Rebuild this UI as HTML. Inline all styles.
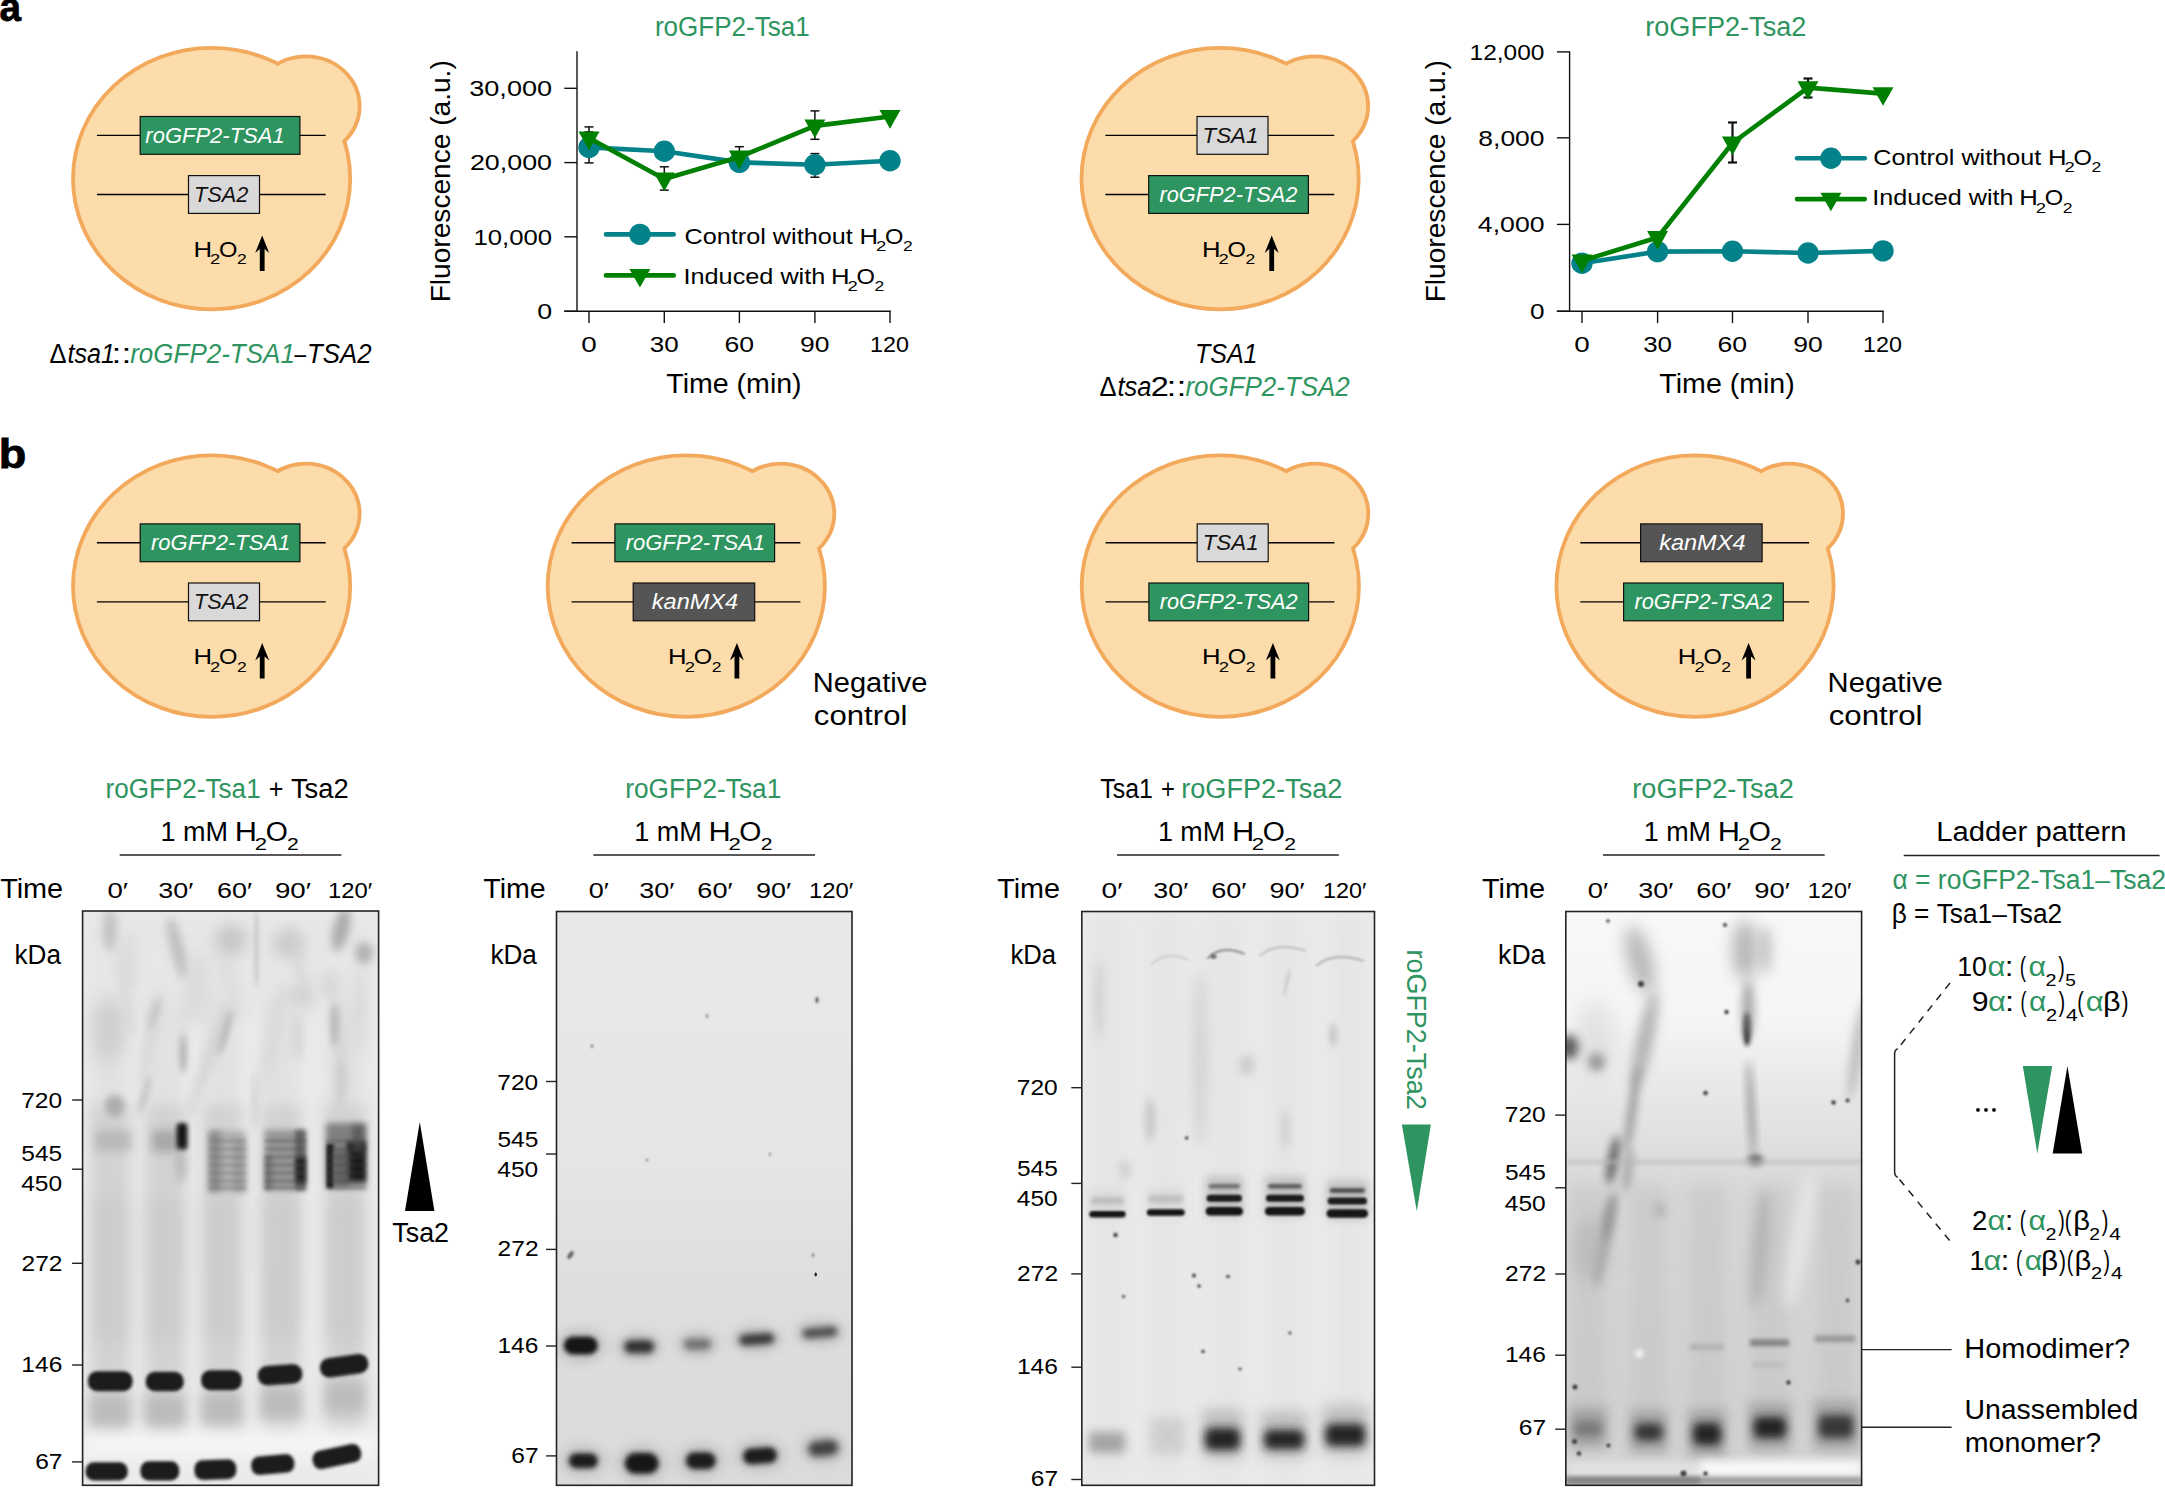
<!DOCTYPE html><html><head><meta charset="utf-8"><title>figure</title>
<style>html,body{margin:0;padding:0;background:#fff}svg{display:block}text{font-family:"Liberation Sans",sans-serif}</style></head><body>
<svg width="2165" height="1488" viewBox="0 0 2165 1488">
<defs>
<g id="yeast"><g fill="#f3a95c" stroke="#f3a95c" stroke-width="3.8"><ellipse cx="211.6" cy="178.65" rx="138.6" ry="130.75"/><ellipse cx="306" cy="106.2" rx="53.6" ry="49.9"/></g><g fill="#fbdcaa" stroke="#fbdcaa" stroke-width="0"><ellipse cx="211.6" cy="178.65" rx="136.7" ry="128.85"/><ellipse cx="306" cy="106.2" rx="51.7" ry="48"/></g></g>
<filter id="b1" x="-100%" y="-100%" width="300%" height="300%"><feGaussianBlur stdDeviation="1"/></filter><filter id="b10" x="-100%" y="-100%" width="300%" height="300%"><feGaussianBlur stdDeviation="10"/></filter><filter id="b12" x="-100%" y="-100%" width="300%" height="300%"><feGaussianBlur stdDeviation="12"/></filter><filter id="b1_5" x="-100%" y="-100%" width="300%" height="300%"><feGaussianBlur stdDeviation="1.5"/></filter><filter id="b2" x="-100%" y="-100%" width="300%" height="300%"><feGaussianBlur stdDeviation="2"/></filter><filter id="b2_0" x="-100%" y="-100%" width="300%" height="300%"><feGaussianBlur stdDeviation="2.0"/></filter><filter id="b2_5" x="-100%" y="-100%" width="300%" height="300%"><feGaussianBlur stdDeviation="2.5"/></filter><filter id="b3" x="-100%" y="-100%" width="300%" height="300%"><feGaussianBlur stdDeviation="3"/></filter><filter id="b3_5" x="-100%" y="-100%" width="300%" height="300%"><feGaussianBlur stdDeviation="3.5"/></filter><filter id="b4" x="-100%" y="-100%" width="300%" height="300%"><feGaussianBlur stdDeviation="4"/></filter><filter id="b5" x="-100%" y="-100%" width="300%" height="300%"><feGaussianBlur stdDeviation="5"/></filter><filter id="b6" x="-100%" y="-100%" width="300%" height="300%"><feGaussianBlur stdDeviation="6"/></filter><filter id="b7" x="-100%" y="-100%" width="300%" height="300%"><feGaussianBlur stdDeviation="7"/></filter><filter id="b8" x="-100%" y="-100%" width="300%" height="300%"><feGaussianBlur stdDeviation="8"/></filter>
</defs>
<rect width="2165" height="1488" fill="#fff"/>
<text x="-0.53" y="21.30" font-size="41" fill="#000" font-weight="bold" textLength="21.49" lengthAdjust="spacingAndGlyphs" stroke="#000" stroke-width="0.8">a</text>
<text x="-1.27" y="467.70" font-size="41" fill="#000" font-weight="bold" textLength="27.52" lengthAdjust="spacingAndGlyphs" stroke="#000" stroke-width="0.8">b</text>
<g transform="translate(0.00,0.00)">
<use href="#yeast"/>
<line x1="96.90" y1="135.40" x2="325.70" y2="135.40" stroke="#000" stroke-width="1.35"/>
<rect x="140.2" y="116.50" width="159.70" height="37.8" fill="#2e9460" stroke="#111" stroke-width="1.2"/>
<text x="145.33" y="143.00" font-size="22.5" fill="#fff" font-style="italic" textLength="139.32" lengthAdjust="spacingAndGlyphs">roGFP2-TSA1</text>
<line x1="96.90" y1="194.50" x2="325.70" y2="194.50" stroke="#000" stroke-width="1.35"/>
<rect x="188.5" y="175.60" width="71.00" height="37.8" fill="#d9d9d9" stroke="#111" stroke-width="1.2"/>
<text x="194.05" y="202.10" font-size="22.5" fill="#111" font-style="italic" textLength="54.27" lengthAdjust="spacingAndGlyphs">TSA2</text>
<text x="193.40" y="256.80" font-size="22.5" fill="#000" textLength="18.53" lengthAdjust="spacingAndGlyphs">H</text>
<text x="209.99" y="264.47" font-size="14.166666666666668" fill="#000" textLength="10.28" lengthAdjust="spacingAndGlyphs">2</text>
<text x="219.04" y="256.80" font-size="22.5" fill="#000" textLength="18.42" lengthAdjust="spacingAndGlyphs">O</text>
<text x="236.95" y="264.47" font-size="14.166666666666668" fill="#000" textLength="9.77" lengthAdjust="spacingAndGlyphs">2</text>
<path d="M259.8,271 L259.8,249 L255.2,253 L262.2,235.6 L269.2,253 L264.59999999999997,249 L264.59999999999997,271 Z" fill="#000"/>
</g>
<g transform="translate(1008.50,0.00)">
<use href="#yeast"/>
<line x1="96.90" y1="135.40" x2="325.70" y2="135.40" stroke="#000" stroke-width="1.35"/>
<rect x="188.5" y="116.50" width="71.00" height="37.8" fill="#d9d9d9" stroke="#111" stroke-width="1.2"/>
<text x="193.99" y="143.00" font-size="22.5" fill="#111" font-style="italic" textLength="55.90" lengthAdjust="spacingAndGlyphs">TSA1</text>
<line x1="96.90" y1="194.50" x2="325.70" y2="194.50" stroke="#000" stroke-width="1.35"/>
<rect x="140.2" y="175.60" width="159.70" height="37.8" fill="#2e9460" stroke="#111" stroke-width="1.2"/>
<text x="151.04" y="202.10" font-size="22.5" fill="#fff" font-style="italic" textLength="137.78" lengthAdjust="spacingAndGlyphs">roGFP2-TSA2</text>
<text x="193.40" y="256.80" font-size="22.5" fill="#000" textLength="18.53" lengthAdjust="spacingAndGlyphs">H</text>
<text x="209.99" y="264.47" font-size="14.166666666666668" fill="#000" textLength="10.28" lengthAdjust="spacingAndGlyphs">2</text>
<text x="219.04" y="256.80" font-size="22.5" fill="#000" textLength="18.42" lengthAdjust="spacingAndGlyphs">O</text>
<text x="236.95" y="264.47" font-size="14.166666666666668" fill="#000" textLength="9.77" lengthAdjust="spacingAndGlyphs">2</text>
<path d="M260.8,271 L260.8,249 L256.2,253 L263.2,235.6 L270.2,253 L265.59999999999997,249 L265.59999999999997,271 Z" fill="#000"/>
</g>
<g transform="translate(0.00,407.40)">
<use href="#yeast"/>
<line x1="96.90" y1="135.40" x2="325.70" y2="135.40" stroke="#000" stroke-width="1.35"/>
<rect x="140.2" y="116.50" width="159.70" height="37.8" fill="#2e9460" stroke="#111" stroke-width="1.2"/>
<text x="151.03" y="143.00" font-size="22.5" fill="#fff" font-style="italic" textLength="139.32" lengthAdjust="spacingAndGlyphs">roGFP2-TSA1</text>
<line x1="96.90" y1="194.50" x2="325.70" y2="194.50" stroke="#000" stroke-width="1.35"/>
<rect x="188.5" y="175.60" width="71.00" height="37.8" fill="#d9d9d9" stroke="#111" stroke-width="1.2"/>
<text x="194.05" y="202.10" font-size="22.5" fill="#111" font-style="italic" textLength="54.27" lengthAdjust="spacingAndGlyphs">TSA2</text>
<text x="193.40" y="256.80" font-size="22.5" fill="#000" textLength="18.53" lengthAdjust="spacingAndGlyphs">H</text>
<text x="209.99" y="264.47" font-size="14.166666666666668" fill="#000" textLength="10.28" lengthAdjust="spacingAndGlyphs">2</text>
<text x="219.04" y="256.80" font-size="22.5" fill="#000" textLength="18.42" lengthAdjust="spacingAndGlyphs">O</text>
<text x="236.95" y="264.47" font-size="14.166666666666668" fill="#000" textLength="9.77" lengthAdjust="spacingAndGlyphs">2</text>
<path d="M259.8,271 L259.8,249 L255.2,253 L262.2,235.6 L269.2,253 L264.59999999999997,249 L264.59999999999997,271 Z" fill="#000"/>
</g>
<g transform="translate(474.70,407.40)">
<use href="#yeast"/>
<line x1="96.90" y1="135.40" x2="325.70" y2="135.40" stroke="#000" stroke-width="1.35"/>
<rect x="140.2" y="116.50" width="159.70" height="37.8" fill="#2e9460" stroke="#111" stroke-width="1.2"/>
<text x="151.03" y="143.00" font-size="22.5" fill="#fff" font-style="italic" textLength="139.32" lengthAdjust="spacingAndGlyphs">roGFP2-TSA1</text>
<line x1="96.90" y1="194.50" x2="325.70" y2="194.50" stroke="#000" stroke-width="1.35"/>
<rect x="158.5" y="175.60" width="121.50" height="37.8" fill="#555" stroke="#111" stroke-width="1.2"/>
<text x="177.11" y="202.10" font-size="22.5" fill="#fff" font-style="italic" textLength="86.27" lengthAdjust="spacingAndGlyphs">kanMX4</text>
<text x="193.40" y="256.80" font-size="22.5" fill="#000" textLength="18.53" lengthAdjust="spacingAndGlyphs">H</text>
<text x="209.99" y="264.47" font-size="14.166666666666668" fill="#000" textLength="10.28" lengthAdjust="spacingAndGlyphs">2</text>
<text x="219.04" y="256.80" font-size="22.5" fill="#000" textLength="18.42" lengthAdjust="spacingAndGlyphs">O</text>
<text x="236.95" y="264.47" font-size="14.166666666666668" fill="#000" textLength="9.77" lengthAdjust="spacingAndGlyphs">2</text>
<path d="M259.8,271 L259.8,249 L255.2,253 L262.2,235.6 L269.2,253 L264.59999999999997,249 L264.59999999999997,271 Z" fill="#000"/>
</g>
<g transform="translate(1008.70,407.40)">
<use href="#yeast"/>
<line x1="96.90" y1="135.40" x2="325.70" y2="135.40" stroke="#000" stroke-width="1.35"/>
<rect x="188.5" y="116.50" width="71.00" height="37.8" fill="#d9d9d9" stroke="#111" stroke-width="1.2"/>
<text x="193.99" y="143.00" font-size="22.5" fill="#111" font-style="italic" textLength="55.90" lengthAdjust="spacingAndGlyphs">TSA1</text>
<line x1="96.90" y1="194.50" x2="325.70" y2="194.50" stroke="#000" stroke-width="1.35"/>
<rect x="140.2" y="175.60" width="159.70" height="37.8" fill="#2e9460" stroke="#111" stroke-width="1.2"/>
<text x="151.04" y="202.10" font-size="22.5" fill="#fff" font-style="italic" textLength="137.78" lengthAdjust="spacingAndGlyphs">roGFP2-TSA2</text>
<text x="193.40" y="256.80" font-size="22.5" fill="#000" textLength="18.53" lengthAdjust="spacingAndGlyphs">H</text>
<text x="209.99" y="264.47" font-size="14.166666666666668" fill="#000" textLength="10.28" lengthAdjust="spacingAndGlyphs">2</text>
<text x="219.04" y="256.80" font-size="22.5" fill="#000" textLength="18.42" lengthAdjust="spacingAndGlyphs">O</text>
<text x="236.95" y="264.47" font-size="14.166666666666668" fill="#000" textLength="9.77" lengthAdjust="spacingAndGlyphs">2</text>
<path d="M261.8,271 L261.8,249 L257.2,253 L264.2,235.6 L271.2,253 L266.59999999999997,249 L266.59999999999997,271 Z" fill="#000"/>
</g>
<g transform="translate(1483.40,407.40)">
<use href="#yeast"/>
<line x1="96.90" y1="135.40" x2="325.70" y2="135.40" stroke="#000" stroke-width="1.35"/>
<rect x="157.2" y="116.50" width="121.50" height="37.8" fill="#555" stroke="#111" stroke-width="1.2"/>
<text x="175.81" y="143.00" font-size="22.5" fill="#fff" font-style="italic" textLength="86.27" lengthAdjust="spacingAndGlyphs">kanMX4</text>
<line x1="96.90" y1="194.50" x2="325.70" y2="194.50" stroke="#000" stroke-width="1.35"/>
<rect x="140.2" y="175.60" width="159.70" height="37.8" fill="#2e9460" stroke="#111" stroke-width="1.2"/>
<text x="151.04" y="202.10" font-size="22.5" fill="#fff" font-style="italic" textLength="137.78" lengthAdjust="spacingAndGlyphs">roGFP2-TSA2</text>
<text x="194.40" y="256.80" font-size="22.5" fill="#000" textLength="18.53" lengthAdjust="spacingAndGlyphs">H</text>
<text x="210.99" y="264.47" font-size="14.166666666666668" fill="#000" textLength="10.28" lengthAdjust="spacingAndGlyphs">2</text>
<text x="220.04" y="256.80" font-size="22.5" fill="#000" textLength="18.42" lengthAdjust="spacingAndGlyphs">O</text>
<text x="237.95" y="264.47" font-size="14.166666666666668" fill="#000" textLength="9.77" lengthAdjust="spacingAndGlyphs">2</text>
<path d="M262.8,271 L262.8,249 L258.2,253 L265.2,235.6 L272.2,253 L267.59999999999997,249 L267.59999999999997,271 Z" fill="#000"/>
</g>
<text x="49.54" y="362.90" font-size="27" fill="#000" textLength="17.03" lengthAdjust="spacingAndGlyphs">Δ</text>
<text x="67.46" y="362.90" font-size="27" fill="#000" font-style="italic" textLength="47.46" lengthAdjust="spacingAndGlyphs">tsa1</text>
<text x="111.54" y="362.90" font-size="27" fill="#000" textLength="19.81" lengthAdjust="spacingAndGlyphs">::</text>
<text x="130.17" y="362.90" font-size="27" fill="#2e9460" font-style="italic" textLength="164.73" lengthAdjust="spacingAndGlyphs">roGFP2-TSA1</text>
<text x="294.40" y="362.90" font-size="27" fill="#000" textLength="11.61" lengthAdjust="spacingAndGlyphs">–</text>
<text x="307.08" y="362.90" font-size="27" fill="#000" font-style="italic" textLength="64.49" lengthAdjust="spacingAndGlyphs">TSA2</text>
<text x="1194.95" y="362.90" font-size="27" fill="#000" font-style="italic" textLength="62.56" lengthAdjust="spacingAndGlyphs">TSA1</text>
<text x="1099.54" y="396.00" font-size="27" fill="#000" textLength="17.03" lengthAdjust="spacingAndGlyphs">Δ</text>
<text x="1117.45" y="396.00" font-size="27" fill="#000" font-style="italic" textLength="33.92" lengthAdjust="spacingAndGlyphs">tsa</text>
<text x="1150.87" y="396.00" font-size="27" fill="#000" textLength="18.07" lengthAdjust="spacingAndGlyphs">2</text>
<text x="1166.54" y="396.00" font-size="27" fill="#000" textLength="19.81" lengthAdjust="spacingAndGlyphs">::</text>
<text x="1185.47" y="396.00" font-size="27" fill="#2e9460" font-style="italic" textLength="164.31" lengthAdjust="spacingAndGlyphs">roGFP2-TSA2</text>
<text x="812.82" y="692.40" font-size="27" fill="#000" textLength="114.57" lengthAdjust="spacingAndGlyphs">Negative</text>
<text x="813.88" y="724.70" font-size="27" fill="#000" textLength="93.51" lengthAdjust="spacingAndGlyphs">control</text>
<text x="1827.61" y="692.40" font-size="27" fill="#000" textLength="115.19" lengthAdjust="spacingAndGlyphs">Negative</text>
<text x="1828.67" y="724.70" font-size="27" fill="#000" textLength="93.82" lengthAdjust="spacingAndGlyphs">control</text>
<line x1="577.00" y1="51.20" x2="577.00" y2="312.00" stroke="#111" stroke-width="1.4"/>
<line x1="564.30" y1="311.30" x2="890.70" y2="311.30" stroke="#111" stroke-width="1.4"/>
<line x1="589.00" y1="311.30" x2="589.00" y2="323.10" stroke="#111" stroke-width="1.4"/>
<line x1="664.30" y1="311.30" x2="664.30" y2="323.10" stroke="#111" stroke-width="1.4"/>
<line x1="739.40" y1="311.30" x2="739.40" y2="323.10" stroke="#111" stroke-width="1.4"/>
<line x1="814.90" y1="311.30" x2="814.90" y2="323.10" stroke="#111" stroke-width="1.4"/>
<line x1="890.00" y1="311.30" x2="890.00" y2="323.10" stroke="#111" stroke-width="1.4"/>
<line x1="564.30" y1="88.30" x2="577.00" y2="88.30" stroke="#111" stroke-width="1.4"/>
<line x1="564.30" y1="162.60" x2="577.00" y2="162.60" stroke="#111" stroke-width="1.4"/>
<line x1="564.30" y1="236.80" x2="577.00" y2="236.80" stroke="#111" stroke-width="1.4"/>
<line x1="564.30" y1="311.30" x2="577.00" y2="311.30" stroke="#111" stroke-width="1.4"/>
<line x1="589.00" y1="131.90" x2="589.00" y2="162.90" stroke="#111" stroke-width="1.5"/>
<line x1="584.50" y1="131.90" x2="593.50" y2="131.90" stroke="#111" stroke-width="1.5"/>
<line x1="584.50" y1="162.90" x2="593.50" y2="162.90" stroke="#111" stroke-width="1.5"/>
<line x1="589.00" y1="126.90" x2="589.00" y2="148.80" stroke="#111" stroke-width="1.5"/>
<line x1="584.50" y1="126.90" x2="593.50" y2="126.90" stroke="#111" stroke-width="1.5"/>
<line x1="584.50" y1="148.80" x2="593.50" y2="148.80" stroke="#111" stroke-width="1.5"/>
<line x1="664.30" y1="166.80" x2="664.30" y2="190.10" stroke="#111" stroke-width="1.5"/>
<line x1="659.80" y1="166.80" x2="668.80" y2="166.80" stroke="#111" stroke-width="1.5"/>
<line x1="659.80" y1="190.10" x2="668.80" y2="190.10" stroke="#111" stroke-width="1.5"/>
<line x1="739.40" y1="146.70" x2="739.40" y2="167.30" stroke="#111" stroke-width="1.5"/>
<line x1="734.90" y1="146.70" x2="743.90" y2="146.70" stroke="#111" stroke-width="1.5"/>
<line x1="734.90" y1="167.30" x2="743.90" y2="167.30" stroke="#111" stroke-width="1.5"/>
<line x1="814.90" y1="110.90" x2="814.90" y2="139.30" stroke="#111" stroke-width="1.5"/>
<line x1="810.40" y1="110.90" x2="819.40" y2="110.90" stroke="#111" stroke-width="1.5"/>
<line x1="810.40" y1="139.30" x2="819.40" y2="139.30" stroke="#111" stroke-width="1.5"/>
<line x1="814.90" y1="153.60" x2="814.90" y2="177.20" stroke="#111" stroke-width="1.5"/>
<line x1="810.40" y1="153.60" x2="819.40" y2="153.60" stroke="#111" stroke-width="1.5"/>
<line x1="810.40" y1="177.20" x2="819.40" y2="177.20" stroke="#111" stroke-width="1.5"/>
<polyline points="589.0,147.4 664.3,151.3 739.4,162.4 814.9,164.7 890.0,160.8" fill="none" stroke="#04828a" stroke-width="4.6" stroke-linejoin="round"/>
<circle cx="589.0" cy="147.4" r="10.7" fill="#04828a"/>
<circle cx="664.3" cy="151.3" r="10.7" fill="#04828a"/>
<circle cx="739.4" cy="162.4" r="10.7" fill="#04828a"/>
<circle cx="814.9" cy="164.7" r="10.7" fill="#04828a"/>
<circle cx="890.0" cy="160.8" r="10.7" fill="#04828a"/>
<polyline points="589.0,138.0 664.3,179.0 739.4,157.0 814.9,125.9 890.0,116.5" fill="none" stroke="#008000" stroke-width="4.6" stroke-linejoin="round"/>
<path d="M578.5,131.6 L599.5,131.6 L589.0,150.2 Z" fill="#008000"/>
<path d="M653.8,172.6 L674.8,172.6 L664.3,191.2 Z" fill="#008000"/>
<path d="M728.9,150.6 L749.9,150.6 L739.4,169.2 Z" fill="#008000"/>
<path d="M804.4,119.5 L825.4,119.5 L814.9,138.1 Z" fill="#008000"/>
<path d="M879.5,110.1 L900.5,110.1 L890.0,128.7 Z" fill="#008000"/>
<text x="469.27" y="96.10" font-size="22.5" fill="#000" textLength="82.79" lengthAdjust="spacingAndGlyphs">30,000</text>
<text x="469.95" y="170.40" font-size="22.5" fill="#000" textLength="82.10" lengthAdjust="spacingAndGlyphs">20,000</text>
<text x="473.44" y="244.60" font-size="22.5" fill="#000" textLength="78.56" lengthAdjust="spacingAndGlyphs">10,000</text>
<text x="537.15" y="319.10" font-size="22.5" fill="#000" textLength="14.89" lengthAdjust="spacingAndGlyphs">0</text>
<text x="581.26" y="352.00" font-size="22.5" fill="#000" textLength="15.47" lengthAdjust="spacingAndGlyphs">0</text>
<text x="649.86" y="352.00" font-size="22.5" fill="#000" textLength="28.90" lengthAdjust="spacingAndGlyphs">30</text>
<text x="724.45" y="352.00" font-size="22.5" fill="#000" textLength="29.59" lengthAdjust="spacingAndGlyphs">60</text>
<text x="800.06" y="352.00" font-size="22.5" fill="#000" textLength="29.48" lengthAdjust="spacingAndGlyphs">90</text>
<text x="870.12" y="352.00" font-size="22.5" fill="#000" textLength="38.89" lengthAdjust="spacingAndGlyphs">120</text>
<text x="666.26" y="393.10" font-size="27" fill="#000" textLength="135.39" lengthAdjust="spacingAndGlyphs">Time (min)</text>
<text x="654.90" y="35.80" font-size="27" fill="#2e9460" textLength="154.95" lengthAdjust="spacingAndGlyphs">roGFP2-Tsa1</text>
<g transform="translate(450,300) rotate(-90)">
<text x="-2.30" y="0.00" font-size="27" fill="#000" textLength="242.05" lengthAdjust="spacingAndGlyphs">Fluorescence (a.u.)</text>
</g>
<line x1="606.00" y1="234.40" x2="673.70" y2="234.40" stroke="#04828a" stroke-width="4.6" stroke-linecap="round"/>
<circle cx="639.9" cy="234.4" r="10.7" fill="#04828a"/>
<line x1="606.00" y1="275.40" x2="673.70" y2="275.40" stroke="#008000" stroke-width="4.6" stroke-linecap="round"/>
<path d="M629.4,269.0 L650.4,269.0 L639.9,287.6 Z" fill="#008000"/>
<text x="684.52" y="243.50" font-size="22.5" fill="#000" textLength="168.23" lengthAdjust="spacingAndGlyphs">Control without</text>
<text x="859.46" y="243.50" font-size="22.5" fill="#000" textLength="18.53" lengthAdjust="spacingAndGlyphs">H</text>
<text x="876.05" y="251.17" font-size="14.166666666666668" fill="#000" textLength="10.28" lengthAdjust="spacingAndGlyphs">2</text>
<text x="885.11" y="243.50" font-size="22.5" fill="#000" textLength="18.42" lengthAdjust="spacingAndGlyphs">O</text>
<text x="903.02" y="251.17" font-size="14.166666666666668" fill="#000" textLength="9.77" lengthAdjust="spacingAndGlyphs">2</text>
<text x="683.47" y="283.80" font-size="22.5" fill="#000" textLength="141.84" lengthAdjust="spacingAndGlyphs">Induced with</text>
<text x="830.96" y="283.80" font-size="22.5" fill="#000" textLength="18.53" lengthAdjust="spacingAndGlyphs">H</text>
<text x="847.55" y="291.47" font-size="14.166666666666668" fill="#000" textLength="10.28" lengthAdjust="spacingAndGlyphs">2</text>
<text x="856.61" y="283.80" font-size="22.5" fill="#000" textLength="18.42" lengthAdjust="spacingAndGlyphs">O</text>
<text x="874.52" y="291.47" font-size="14.166666666666668" fill="#000" textLength="9.77" lengthAdjust="spacingAndGlyphs">2</text>
<line x1="1569.60" y1="51.20" x2="1569.60" y2="312.00" stroke="#111" stroke-width="1.4"/>
<line x1="1556.90" y1="311.30" x2="1883.70" y2="311.30" stroke="#111" stroke-width="1.4"/>
<line x1="1582.00" y1="311.30" x2="1582.00" y2="323.10" stroke="#111" stroke-width="1.4"/>
<line x1="1657.60" y1="311.30" x2="1657.60" y2="323.10" stroke="#111" stroke-width="1.4"/>
<line x1="1732.50" y1="311.30" x2="1732.50" y2="323.10" stroke="#111" stroke-width="1.4"/>
<line x1="1808.00" y1="311.30" x2="1808.00" y2="323.10" stroke="#111" stroke-width="1.4"/>
<line x1="1883.00" y1="311.30" x2="1883.00" y2="323.10" stroke="#111" stroke-width="1.4"/>
<line x1="1556.90" y1="51.90" x2="1569.60" y2="51.90" stroke="#111" stroke-width="1.4"/>
<line x1="1556.90" y1="137.80" x2="1569.60" y2="137.80" stroke="#111" stroke-width="1.4"/>
<line x1="1556.90" y1="224.40" x2="1569.60" y2="224.40" stroke="#111" stroke-width="1.4"/>
<line x1="1556.90" y1="311.30" x2="1569.60" y2="311.30" stroke="#111" stroke-width="1.4"/>
<line x1="1732.50" y1="122.50" x2="1732.50" y2="162.50" stroke="#111" stroke-width="2.2"/>
<line x1="1728.00" y1="122.50" x2="1737.00" y2="122.50" stroke="#111" stroke-width="2.2"/>
<line x1="1728.00" y1="162.50" x2="1737.00" y2="162.50" stroke="#111" stroke-width="2.2"/>
<line x1="1808.00" y1="78.50" x2="1808.00" y2="97.50" stroke="#111" stroke-width="2.2"/>
<line x1="1803.50" y1="78.50" x2="1812.50" y2="78.50" stroke="#111" stroke-width="2.2"/>
<line x1="1803.50" y1="97.50" x2="1812.50" y2="97.50" stroke="#111" stroke-width="2.2"/>
<polyline points="1582.0,263.3 1657.6,251.6 1732.5,251.2 1808.0,253.0 1883.0,250.9" fill="none" stroke="#04828a" stroke-width="4.6" stroke-linejoin="round"/>
<circle cx="1582.0" cy="263.3" r="10.7" fill="#04828a"/>
<circle cx="1657.6" cy="251.6" r="10.7" fill="#04828a"/>
<circle cx="1732.5" cy="251.2" r="10.7" fill="#04828a"/>
<circle cx="1808.0" cy="253.0" r="10.7" fill="#04828a"/>
<circle cx="1883.0" cy="250.9" r="10.7" fill="#04828a"/>
<polyline points="1582.0,260.8 1657.6,237.5 1732.5,143.0 1808.0,87.6 1883.0,93.6" fill="none" stroke="#008000" stroke-width="4.6" stroke-linejoin="round"/>
<path d="M1571.5,254.4 L1592.5,254.4 L1582.0,273.0 Z" fill="#008000"/>
<path d="M1647.1,231.1 L1668.1,231.1 L1657.6,249.7 Z" fill="#008000"/>
<path d="M1722.0,136.6 L1743.0,136.6 L1732.5,155.2 Z" fill="#008000"/>
<path d="M1797.5,81.2 L1818.5,81.2 L1808.0,99.8 Z" fill="#008000"/>
<path d="M1872.5,87.2 L1893.5,87.2 L1883.0,105.8 Z" fill="#008000"/>
<text x="1469.64" y="59.70" font-size="22.5" fill="#000" textLength="74.82" lengthAdjust="spacingAndGlyphs">12,000</text>
<text x="1478.35" y="145.60" font-size="22.5" fill="#000" textLength="66.18" lengthAdjust="spacingAndGlyphs">8,000</text>
<text x="1477.89" y="232.20" font-size="22.5" fill="#000" textLength="66.65" lengthAdjust="spacingAndGlyphs">4,000</text>
<text x="1529.98" y="319.10" font-size="22.5" fill="#000" textLength="14.54" lengthAdjust="spacingAndGlyphs">0</text>
<text x="1574.26" y="352.00" font-size="22.5" fill="#000" textLength="15.47" lengthAdjust="spacingAndGlyphs">0</text>
<text x="1643.16" y="352.00" font-size="22.5" fill="#000" textLength="28.90" lengthAdjust="spacingAndGlyphs">30</text>
<text x="1717.55" y="352.00" font-size="22.5" fill="#000" textLength="29.59" lengthAdjust="spacingAndGlyphs">60</text>
<text x="1793.16" y="352.00" font-size="22.5" fill="#000" textLength="29.48" lengthAdjust="spacingAndGlyphs">90</text>
<text x="1863.12" y="352.00" font-size="22.5" fill="#000" textLength="38.89" lengthAdjust="spacingAndGlyphs">120</text>
<text x="1659.36" y="393.10" font-size="27" fill="#000" textLength="135.39" lengthAdjust="spacingAndGlyphs">Time (min)</text>
<text x="1645.23" y="35.80" font-size="27" fill="#2e9460" textLength="161.10" lengthAdjust="spacingAndGlyphs">roGFP2-Tsa2</text>
<g transform="translate(1445,300) rotate(-90)">
<text x="-2.30" y="0.00" font-size="27" fill="#000" textLength="242.05" lengthAdjust="spacingAndGlyphs">Fluorescence (a.u.)</text>
</g>
<line x1="1797.00" y1="158.30" x2="1864.80" y2="158.30" stroke="#04828a" stroke-width="4.6" stroke-linecap="round"/>
<circle cx="1830.9" cy="158.3" r="10.7" fill="#04828a"/>
<line x1="1797.00" y1="199.10" x2="1864.80" y2="199.10" stroke="#008000" stroke-width="4.6" stroke-linecap="round"/>
<path d="M1820.4,192.7 L1841.4,192.7 L1830.9,211.3 Z" fill="#008000"/>
<text x="1873.22" y="164.50" font-size="22.5" fill="#000" textLength="168.03" lengthAdjust="spacingAndGlyphs">Control without</text>
<text x="2047.96" y="164.50" font-size="22.5" fill="#000" textLength="18.53" lengthAdjust="spacingAndGlyphs">H</text>
<text x="2064.55" y="172.17" font-size="14.166666666666668" fill="#000" textLength="10.28" lengthAdjust="spacingAndGlyphs">2</text>
<text x="2073.61" y="164.50" font-size="22.5" fill="#000" textLength="18.42" lengthAdjust="spacingAndGlyphs">O</text>
<text x="2091.52" y="172.17" font-size="14.166666666666668" fill="#000" textLength="9.77" lengthAdjust="spacingAndGlyphs">2</text>
<text x="1872.18" y="205.10" font-size="22.5" fill="#000" textLength="141.32" lengthAdjust="spacingAndGlyphs">Induced with</text>
<text x="2019.16" y="205.10" font-size="22.5" fill="#000" textLength="18.53" lengthAdjust="spacingAndGlyphs">H</text>
<text x="2035.75" y="212.77" font-size="14.166666666666668" fill="#000" textLength="10.28" lengthAdjust="spacingAndGlyphs">2</text>
<text x="2044.81" y="205.10" font-size="22.5" fill="#000" textLength="18.42" lengthAdjust="spacingAndGlyphs">O</text>
<text x="2062.72" y="212.77" font-size="14.166666666666668" fill="#000" textLength="9.77" lengthAdjust="spacingAndGlyphs">2</text>
<clipPath id="gc1"><rect x="82.6" y="911" width="296.00" height="574.30"/></clipPath>
<g clip-path="url(#gc1)">
<rect x="82.6" y="911" width="296.00" height="574.30" fill="#ebebeb"/>
<rect x="90.0" y="1105.0" width="40.0" height="335.0" rx="0" fill="#c4c4c4" filter="url(#b7)" opacity="0.62"/>
<rect x="94.0" y="1000.0" width="32.0" height="120.0" rx="0" fill="#cdcdcd" filter="url(#b10)" opacity="0.35"/>
<rect x="145.0" y="1105.0" width="40.0" height="335.0" rx="0" fill="#c4c4c4" filter="url(#b7)" opacity="0.62"/>
<rect x="149.0" y="1000.0" width="32.0" height="120.0" rx="0" fill="#cdcdcd" filter="url(#b10)" opacity="0.35"/>
<rect x="202.0" y="1105.0" width="40.0" height="335.0" rx="0" fill="#c4c4c4" filter="url(#b7)" opacity="0.62"/>
<rect x="206.0" y="1000.0" width="32.0" height="120.0" rx="0" fill="#cdcdcd" filter="url(#b10)" opacity="0.35"/>
<rect x="261.0" y="1105.0" width="40.0" height="335.0" rx="0" fill="#c4c4c4" filter="url(#b7)" opacity="0.62"/>
<rect x="265.0" y="1000.0" width="32.0" height="120.0" rx="0" fill="#cdcdcd" filter="url(#b10)" opacity="0.35"/>
<rect x="325.0" y="1105.0" width="40.0" height="335.0" rx="0" fill="#c4c4c4" filter="url(#b7)" opacity="0.62"/>
<rect x="329.0" y="1000.0" width="32.0" height="120.0" rx="0" fill="#cdcdcd" filter="url(#b10)" opacity="0.35"/>
<ellipse cx="110.0" cy="930.0" rx="7.0" ry="22.0" fill="#acacac" filter="url(#b5)" opacity="0.75"/>
<ellipse cx="177.0" cy="948.0" rx="6.0" ry="32.0" fill="#a5a5a5" filter="url(#b5)" transform="rotate(-14 177.0 948.0)" opacity="0.8"/>
<ellipse cx="231.0" cy="940.0" rx="16.0" ry="16.0" fill="#bcbcbc" filter="url(#b7)" opacity="0.8"/>
<ellipse cx="256.5" cy="948.0" rx="2.2" ry="40.0" fill="#b2b2b2" filter="url(#b2)" opacity="0.7"/>
<ellipse cx="288.0" cy="944.0" rx="16.0" ry="15.0" fill="#c0c0c0" filter="url(#b7)" opacity="0.75"/>
<ellipse cx="341.0" cy="930.0" rx="8.0" ry="22.0" fill="#969696" filter="url(#b4)" transform="rotate(14 341.0 930.0)" opacity="0.85"/>
<ellipse cx="364.0" cy="953.0" rx="9.0" ry="11.0" fill="#9e9e9e" filter="url(#b4)" opacity="0.85"/>
<ellipse cx="183.0" cy="1053.0" rx="3.5" ry="20.0" fill="#a0a0a0" filter="url(#b3)" opacity="0.8"/>
<ellipse cx="225.0" cy="1032.0" rx="3.5" ry="24.0" fill="#a6a6a6" filter="url(#b3)" transform="rotate(16 225.0 1032.0)" opacity="0.8"/>
<ellipse cx="334.5" cy="1025.0" rx="3.0" ry="22.0" fill="#989898" filter="url(#b3)" opacity="0.85"/>
<ellipse cx="155.0" cy="1013.0" rx="3.5" ry="18.0" fill="#b6b6b6" filter="url(#b3)" transform="rotate(18 155.0 1013.0)" opacity="0.7"/>
<ellipse cx="108.0" cy="1030.0" rx="16.0" ry="32.0" fill="#c8c8c8" filter="url(#b8)" opacity="0.7"/>
<ellipse cx="145.0" cy="1094.0" rx="3.5" ry="20.0" fill="#b6b6b6" filter="url(#b3)" transform="rotate(16 145.0 1094.0)" opacity="0.7"/>
<ellipse cx="298.0" cy="1037.0" rx="5.0" ry="25.0" fill="#c8c8c8" filter="url(#b5)" opacity="0.6"/>
<ellipse cx="300.0" cy="995.0" rx="14.0" ry="10.0" fill="#c8c8c8" filter="url(#b6)" opacity="0.6"/>
<ellipse cx="330.0" cy="985.0" rx="10.0" ry="14.0" fill="#cdcdcd" filter="url(#b6)" opacity="0.6"/>
<ellipse cx="200.0" cy="990.0" rx="10.0" ry="40.0" fill="#d2d2d2" filter="url(#b8)" opacity="0.5"/>
<ellipse cx="130.0" cy="960.0" rx="8.0" ry="30.0" fill="#d4d4d4" filter="url(#b6)" opacity="0.5"/>
<ellipse cx="340.0" cy="1085.0" rx="4.0" ry="25.0" fill="#bebebe" filter="url(#b4)" opacity="0.6"/>
<ellipse cx="255.0" cy="1100.0" rx="3.0" ry="30.0" fill="#c8c8c8" filter="url(#b3)" opacity="0.6"/>
<ellipse cx="208.0" cy="1060.0" rx="6.0" ry="60.0" fill="#c8c8c8" filter="url(#b5)" transform="rotate(19 208.0 1060.0)" opacity="0.55"/>
<ellipse cx="149.0" cy="1042.0" rx="6.0" ry="50.0" fill="#cbcbcb" filter="url(#b5)" transform="rotate(8 149.0 1042.0)" opacity="0.5"/>
<ellipse cx="340.0" cy="1048.0" rx="6.0" ry="52.0" fill="#c8c8c8" filter="url(#b5)" transform="rotate(-5 340.0 1048.0)" opacity="0.5"/>
<ellipse cx="272.0" cy="1040.0" rx="7.0" ry="60.0" fill="#d0d0d0" filter="url(#b6)" transform="rotate(10 272.0 1040.0)" opacity="0.5"/>
<ellipse cx="300.0" cy="970.0" rx="6.0" ry="45.0" fill="#cdcdcd" filter="url(#b5)" transform="rotate(-12 300.0 970.0)" opacity="0.5"/>
<ellipse cx="125.0" cy="990.0" rx="6.0" ry="50.0" fill="#d0d0d0" filter="url(#b5)" transform="rotate(-8 125.0 990.0)" opacity="0.45"/>
<ellipse cx="230.0" cy="985.0" rx="7.0" ry="40.0" fill="#d2d2d2" filter="url(#b6)" transform="rotate(-15 230.0 985.0)" opacity="0.45"/>
<ellipse cx="190.0" cy="1000.0" rx="6.0" ry="45.0" fill="#d4d4d4" filter="url(#b5)" transform="rotate(12 190.0 1000.0)" opacity="0.4"/>
<ellipse cx="360.0" cy="1010.0" rx="7.0" ry="45.0" fill="#d0d0d0" filter="url(#b6)" opacity="0.5"/>
<rect x="82.0" y="911.0" width="297.0" height="89.0" rx="0" fill="#d6d6d6" filter="url(#b12)" opacity="0.2"/>
<ellipse cx="114.8" cy="1106.0" rx="10.0" ry="11.0" fill="#aaaaaa" filter="url(#b3)" opacity="0.9"/>
<rect x="95.0" y="1131.0" width="36.0" height="20.0" rx="0" fill="#b4b4b4" filter="url(#b5)" opacity="0.85"/>
<rect x="152.0" y="1130.0" width="26.0" height="22.0" rx="0" fill="#a0a0a0" filter="url(#b5)" opacity="0.85"/>
<rect x="176.5" y="1123.0" width="11.0" height="27.0" rx="4" fill="#161616" filter="url(#b2)"/>
<ellipse cx="181.0" cy="1165.0" rx="5.0" ry="18.0" fill="#a0a0a0" filter="url(#b4)" opacity="0.6"/>
<rect x="209.0" y="1131.0" width="36.5" height="61.0" rx="0" fill="#a8a8a8" filter="url(#b3)" opacity="0.85"/>
<rect x="209.0" y="1131.0" width="11.5" height="61.0" rx="0" fill="#737373" filter="url(#b3)" opacity="0.6"/>
<rect x="234.0" y="1140.0" width="11.5" height="52.0" rx="0" fill="#878787" filter="url(#b3)" opacity="0.5"/>
<rect x="264.8" y="1130.0" width="40.7" height="60.5" rx="0" fill="#8e8e8e" filter="url(#b3)" opacity="0.9"/>
<rect x="264.8" y="1155.0" width="7.2" height="35.0" rx="0" fill="#5f5f5f" filter="url(#b2)" opacity="0.6"/>
<rect x="295.0" y="1130.0" width="10.5" height="60.0" rx="0" fill="#555555" filter="url(#b2)" opacity="0.8"/>
<rect x="296.0" y="1157.0" width="9.5" height="26.0" rx="0" fill="#1c1c1c" filter="url(#b2)" opacity="0.9"/>
<rect x="325.8" y="1123.0" width="40.6" height="65.0" rx="0" fill="#787878" filter="url(#b3)" opacity="0.9"/>
<rect x="326.7" y="1144.0" width="6.8" height="44.0" rx="0" fill="#1c1c1c" filter="url(#b1_5)"/>
<rect x="347.0" y="1142.0" width="18.5" height="39.0" rx="0" fill="#1c1c1c" filter="url(#b2)"/>
<rect x="333.0" y="1150.0" width="17.0" height="36.0" rx="0" fill="#5a5a5a" filter="url(#b3)" opacity="0.7"/>
<rect x="352.0" y="1125.0" width="12.0" height="27.0" rx="0" fill="#505050" filter="url(#b3)" opacity="0.7"/>
<rect x="209.0" y="1139.5" width="36.5" height="3.0" rx="0" fill="#6e6e6e" filter="url(#b1_5)" opacity="0.35"/>
<rect x="264.8" y="1139.5" width="40.7" height="3.0" rx="0" fill="#505050" filter="url(#b1_5)" opacity="0.4"/>
<rect x="326.0" y="1139.5" width="40.0" height="3.0" rx="0" fill="#3c3c3c" filter="url(#b1_5)" opacity="0.3"/>
<rect x="209.0" y="1147.5" width="36.5" height="3.0" rx="0" fill="#6e6e6e" filter="url(#b1_5)" opacity="0.35"/>
<rect x="264.8" y="1147.5" width="40.7" height="3.0" rx="0" fill="#505050" filter="url(#b1_5)" opacity="0.4"/>
<rect x="326.0" y="1147.5" width="40.0" height="3.0" rx="0" fill="#3c3c3c" filter="url(#b1_5)" opacity="0.3"/>
<rect x="209.0" y="1155.5" width="36.5" height="3.0" rx="0" fill="#6e6e6e" filter="url(#b1_5)" opacity="0.35"/>
<rect x="264.8" y="1155.5" width="40.7" height="3.0" rx="0" fill="#505050" filter="url(#b1_5)" opacity="0.4"/>
<rect x="326.0" y="1155.5" width="40.0" height="3.0" rx="0" fill="#3c3c3c" filter="url(#b1_5)" opacity="0.3"/>
<rect x="209.0" y="1163.5" width="36.5" height="3.0" rx="0" fill="#6e6e6e" filter="url(#b1_5)" opacity="0.35"/>
<rect x="264.8" y="1163.5" width="40.7" height="3.0" rx="0" fill="#505050" filter="url(#b1_5)" opacity="0.4"/>
<rect x="326.0" y="1163.5" width="40.0" height="3.0" rx="0" fill="#3c3c3c" filter="url(#b1_5)" opacity="0.3"/>
<rect x="209.0" y="1171.5" width="36.5" height="3.0" rx="0" fill="#6e6e6e" filter="url(#b1_5)" opacity="0.35"/>
<rect x="264.8" y="1171.5" width="40.7" height="3.0" rx="0" fill="#505050" filter="url(#b1_5)" opacity="0.4"/>
<rect x="326.0" y="1171.5" width="40.0" height="3.0" rx="0" fill="#3c3c3c" filter="url(#b1_5)" opacity="0.3"/>
<rect x="209.0" y="1179.5" width="36.5" height="3.0" rx="0" fill="#6e6e6e" filter="url(#b1_5)" opacity="0.35"/>
<rect x="264.8" y="1179.5" width="40.7" height="3.0" rx="0" fill="#505050" filter="url(#b1_5)" opacity="0.4"/>
<rect x="326.0" y="1179.5" width="40.0" height="3.0" rx="0" fill="#3c3c3c" filter="url(#b1_5)" opacity="0.3"/>
<rect x="209.0" y="1186.5" width="36.5" height="3.0" rx="0" fill="#6e6e6e" filter="url(#b1_5)" opacity="0.35"/>
<rect x="264.8" y="1186.5" width="40.7" height="3.0" rx="0" fill="#505050" filter="url(#b1_5)" opacity="0.4"/>
<rect x="326.0" y="1186.5" width="40.0" height="3.0" rx="0" fill="#3c3c3c" filter="url(#b1_5)" opacity="0.3"/>
<rect x="93.0" y="1200.0" width="34.0" height="140.0" rx="0" fill="#c6c6c6" filter="url(#b8)" opacity="0.5"/>
<rect x="148.0" y="1200.0" width="34.0" height="140.0" rx="0" fill="#c6c6c6" filter="url(#b8)" opacity="0.5"/>
<rect x="205.0" y="1200.0" width="34.0" height="140.0" rx="0" fill="#c6c6c6" filter="url(#b8)" opacity="0.5"/>
<rect x="264.0" y="1200.0" width="34.0" height="140.0" rx="0" fill="#c6c6c6" filter="url(#b8)" opacity="0.5"/>
<rect x="328.0" y="1200.0" width="34.0" height="140.0" rx="0" fill="#c6c6c6" filter="url(#b8)" opacity="0.5"/>
<rect x="82.0" y="1428.0" width="297.0" height="30.0" rx="0" fill="#f6f6f6" filter="url(#b8)" opacity="0.9"/>
<rect x="90.0" y="1396.0" width="40.0" height="30.0" rx="0" fill="#b6b6b6" filter="url(#b6)" opacity="0.8"/>
<rect x="145.0" y="1396.0" width="40.0" height="30.0" rx="0" fill="#b6b6b6" filter="url(#b6)" opacity="0.8"/>
<rect x="202.0" y="1394.0" width="40.0" height="30.0" rx="0" fill="#b6b6b6" filter="url(#b6)" opacity="0.8"/>
<rect x="261.0" y="1388.0" width="40.0" height="30.0" rx="0" fill="#b6b6b6" filter="url(#b6)" opacity="0.8"/>
<rect x="325.0" y="1382.0" width="40.0" height="30.0" rx="0" fill="#b6b6b6" filter="url(#b6)" opacity="0.8"/>
<rect x="88.0" y="1371.2" width="44.5" height="20.0" rx="9" fill="#1c1c1c" filter="url(#b1_5)"/>
<rect x="145.7" y="1371.8" width="38.0" height="19.4" rx="9" fill="#1c1c1c" filter="url(#b1_5)"/>
<rect x="201.2" y="1370.2" width="40.6" height="20.0" rx="9" fill="#1c1c1c" filter="url(#b1_5)"/>
<rect x="257.8" y="1365.0" width="44.5" height="19.5" rx="9" fill="#1c1c1c" filter="url(#b1_5)" transform="rotate(-4 280.1 1374.8)"/>
<rect x="319.9" y="1356.0" width="48.5" height="19.5" rx="9" fill="#1c1c1c" filter="url(#b1_5)" transform="rotate(-8 344.1 1365.8)"/>
<rect x="85.6" y="1462.3" width="42.1" height="18.1" rx="8" fill="#1c1c1c" filter="url(#b1_5)"/>
<rect x="140.5" y="1461.3" width="38.6" height="19.1" rx="8" fill="#1c1c1c" filter="url(#b1_5)"/>
<rect x="194.5" y="1459.8" width="41.7" height="19.6" rx="8" fill="#1c1c1c" filter="url(#b1_5)" transform="rotate(-2 215.3 1469.6)"/>
<rect x="251.2" y="1455.3" width="43.1" height="18.5" rx="8" fill="#1c1c1c" filter="url(#b1_5)" transform="rotate(-5 272.8 1464.5)"/>
<rect x="312.3" y="1447.3" width="49.1" height="18.5" rx="8" fill="#1c1c1c" filter="url(#b1_5)" transform="rotate(-12 336.9 1456.5)"/>
</g>
<rect x="82.6" y="911" width="296.00" height="574.30" fill="none" stroke="#222" stroke-width="1.6"/>
<linearGradient id="gg2" x1="0" y1="0" x2="0" y2="1"><stop offset="-0.0009" stop-color="#e8e8e8"/><stop offset="0.4157" stop-color="#e6e6e6"/><stop offset="0.6596" stop-color="#dedede"/><stop offset="0.9995" stop-color="#dbdbdb"/></linearGradient>
<clipPath id="gc2"><rect x="556.5" y="911.5" width="295.50" height="573.80"/></clipPath>
<g clip-path="url(#gc2)">
<rect x="556.5" y="911.5" width="295.50" height="573.80" fill="url(#gg2)"/>
<ellipse cx="580.8" cy="1345.5" rx="24.0" ry="16.0" fill="#a5a5a5" filter="url(#b6)" opacity="0.55"/>
<rect x="563.8" y="1336.5" width="34.0" height="18.0" rx="9.0" fill="#161616" filter="url(#b2)"/>
<ellipse cx="639.2" cy="1346.7" rx="22.0" ry="13.5" fill="#a5a5a5" filter="url(#b6)" opacity="0.55"/>
<rect x="624.2" y="1340.2" width="30.0" height="13.0" rx="6.5" fill="#2d2d2d" filter="url(#b3)"/>
<ellipse cx="697.5" cy="1344.2" rx="20.5" ry="12.5" fill="#a5a5a5" filter="url(#b6)" opacity="0.55"/>
<rect x="684.0" y="1338.7" width="27.0" height="11.0" rx="5.5" fill="#737373" filter="url(#b3)"/>
<ellipse cx="756.7" cy="1339.2" rx="24.5" ry="12.5" fill="#a5a5a5" filter="url(#b6)" opacity="0.55"/>
<rect x="739.2" y="1333.7" width="35.0" height="11.0" rx="5.5" fill="#373737" filter="url(#b3)" transform="rotate(-4 756.7 1339.2)"/>
<ellipse cx="820.0" cy="1332.5" rx="24.5" ry="12.0" fill="#a5a5a5" filter="url(#b6)" opacity="0.55"/>
<rect x="802.5" y="1327.5" width="35.0" height="10.0" rx="5.0" fill="#505050" filter="url(#b3)" transform="rotate(-5 820.0 1332.5)"/>
<ellipse cx="583.3" cy="1460.8" rx="21.5" ry="14.5" fill="#a5a5a5" filter="url(#b6)" opacity="0.55"/>
<rect x="568.8" y="1453.3" width="29.0" height="15.0" rx="7.5" fill="#1c1c1c" filter="url(#b2_5)"/>
<ellipse cx="641.7" cy="1463.3" rx="24.0" ry="17.5" fill="#a5a5a5" filter="url(#b6)" opacity="0.55"/>
<rect x="624.7" y="1452.8" width="34.0" height="21.0" rx="10.5" fill="#161616" filter="url(#b2_5)"/>
<ellipse cx="700.8" cy="1460.8" rx="22.0" ry="15.5" fill="#a5a5a5" filter="url(#b6)" opacity="0.55"/>
<rect x="685.8" y="1452.3" width="30.0" height="17.0" rx="8.5" fill="#1c1c1c" filter="url(#b2_5)"/>
<ellipse cx="760.0" cy="1455.8" rx="24.0" ry="15.0" fill="#a5a5a5" filter="url(#b6)" opacity="0.55"/>
<rect x="743.0" y="1447.8" width="34.0" height="16.0" rx="8.0" fill="#1c1c1c" filter="url(#b2_5)" transform="rotate(-4 760.0 1455.8)"/>
<ellipse cx="823.3" cy="1448.3" rx="22.0" ry="14.5" fill="#a5a5a5" filter="url(#b6)" opacity="0.55"/>
<rect x="808.3" y="1440.8" width="30.0" height="15.0" rx="7.5" fill="#414141" filter="url(#b3_5)" transform="rotate(-6 823.3 1448.3)"/>
<ellipse cx="570.5" cy="1255.0" rx="2.0" ry="4.5" fill="#5a5a5a" filter="url(#b1)" transform="rotate(35 570.5 1255.0)"/>
<ellipse cx="815.7" cy="1274.5" rx="1.2" ry="2.0" fill="#1e1e1e"/>
<ellipse cx="813.0" cy="1255.0" rx="1.2" ry="2.0" fill="#787878" filter="url(#b1)"/>
<ellipse cx="647.0" cy="1160.0" rx="1.0" ry="1.5" fill="#787878" filter="url(#b1)"/>
<ellipse cx="592.0" cy="1046.0" rx="1.3" ry="1.8" fill="#6e6e6e" filter="url(#b1)"/>
<ellipse cx="707.0" cy="1016.0" rx="1.2" ry="1.8" fill="#6e6e6e" filter="url(#b1)"/>
<ellipse cx="817.0" cy="1000.0" rx="1.5" ry="3.0" fill="#5a5a5a" filter="url(#b1)"/>
<ellipse cx="770.0" cy="1154.0" rx="1.0" ry="1.5" fill="#787878" filter="url(#b1)"/>
</g>
<rect x="556.5" y="911.5" width="295.50" height="573.80" fill="none" stroke="#222" stroke-width="1.6"/>
<clipPath id="gc3"><rect x="1081.8" y="911.5" width="292.70" height="573.80"/></clipPath>
<g clip-path="url(#gc3)">
<rect x="1081.8" y="911.5" width="292.70" height="573.80" fill="#ececec"/>
<rect x="1087.5" y="911.0" width="40.0" height="574.0" rx="0" fill="#d8d8d8" filter="url(#b10)" opacity="0.3"/>
<rect x="1145.8" y="911.0" width="40.0" height="574.0" rx="0" fill="#d8d8d8" filter="url(#b10)" opacity="0.3"/>
<rect x="1204.3" y="911.0" width="40.0" height="574.0" rx="0" fill="#d8d8d8" filter="url(#b10)" opacity="0.3"/>
<rect x="1265.0" y="911.0" width="40.0" height="574.0" rx="0" fill="#d8d8d8" filter="url(#b10)" opacity="0.3"/>
<rect x="1327.3" y="911.0" width="40.0" height="574.0" rx="0" fill="#d8d8d8" filter="url(#b10)" opacity="0.3"/>
<ellipse cx="1099.0" cy="1000.0" rx="4.0" ry="40.0" fill="#bebebe" filter="url(#b5)" opacity="0.6"/>
<ellipse cx="1150.0" cy="1120.0" rx="4.0" ry="22.0" fill="#aaaaaa" filter="url(#b4)" opacity="0.7"/>
<ellipse cx="1200.0" cy="1060.0" rx="8.0" ry="90.0" fill="#c8c8c8" filter="url(#b6)" opacity="0.6"/>
<ellipse cx="1247.0" cy="1065.0" rx="8.0" ry="10.0" fill="#bebebe" filter="url(#b5)" opacity="0.7"/>
<ellipse cx="1333.0" cy="1035.0" rx="3.0" ry="12.0" fill="#aaaaaa" filter="url(#b3)" opacity="0.7"/>
<ellipse cx="1287.0" cy="982.0" rx="1.5" ry="14.0" fill="#bebebe" filter="url(#b1_5)" transform="rotate(12 1287.0 982.0)" opacity="0.7"/>
<ellipse cx="1285.0" cy="1130.0" rx="4.0" ry="20.0" fill="#bebebe" filter="url(#b4)" opacity="0.6"/>
<ellipse cx="1125.0" cy="1170.0" rx="6.0" ry="10.0" fill="#bebebe" filter="url(#b4)" opacity="0.6"/>
<path d="M1151,965 Q1164.3,950 1189,960" fill="none" stroke="#cdcdcd" stroke-width="1.8" filter="url(#b1)"/>
<path d="M1207,959 Q1220.3,944 1245,954" fill="none" stroke="#8c8c8c" stroke-width="1.8" filter="url(#b1)"/>
<path d="M1260,956 Q1276.1,941 1306,951" fill="none" stroke="#bebebe" stroke-width="1.8" filter="url(#b1)"/>
<path d="M1316,966 Q1332.8,951 1364,961" fill="none" stroke="#afafaf" stroke-width="1.8" filter="url(#b1)"/>
<ellipse cx="1213.5" cy="956.5" rx="3.0" ry="2.2" fill="#5a5a5a" filter="url(#b1)" opacity="0.9"/>
<rect x="1089.3" y="1190.3" width="36.3" height="28.0" rx="0" fill="#d0d0d0" filter="url(#b4)" opacity="0.5"/>
<rect x="1091.3" y="1197.3" width="32.3" height="7.0" rx="0" fill="#b9b9b9" filter="url(#b2)" opacity="0.9"/>
<rect x="1089.3" y="1211.0" width="36.3" height="6.5" rx="3.25" fill="#161616" filter="url(#b1)"/>
<rect x="1146.8" y="1188.5" width="37.9" height="28.0" rx="0" fill="#d0d0d0" filter="url(#b4)" opacity="0.5"/>
<rect x="1148.8" y="1195.5" width="33.9" height="7.0" rx="0" fill="#b9b9b9" filter="url(#b2)" opacity="0.9"/>
<rect x="1146.8" y="1209.2" width="37.9" height="6.5" rx="3.25" fill="#161616" filter="url(#b1)"/>
<rect x="1205.6" y="1176.3" width="37.4" height="40.0" rx="0" fill="#aaaaaa" filter="url(#b4)" opacity="0.6"/>
<rect x="1205.6" y="1207.0" width="37.4" height="8.5" rx="4.25" fill="#191919" filter="url(#b1)"/>
<rect x="1206.6" y="1194.7" width="35.4" height="7.0" rx="3.5" fill="#1e1e1e" filter="url(#b1)"/>
<rect x="1208.6" y="1184.0" width="31.4" height="4.5" rx="2.25" fill="#6e6e6e" filter="url(#b1_5)"/>
<rect x="1264.9" y="1176.3" width="40.1" height="40.0" rx="0" fill="#aaaaaa" filter="url(#b4)" opacity="0.6"/>
<rect x="1264.9" y="1207.0" width="40.1" height="8.5" rx="4.25" fill="#191919" filter="url(#b1)"/>
<rect x="1265.9" y="1194.7" width="38.1" height="7.0" rx="3.5" fill="#1e1e1e" filter="url(#b1)"/>
<rect x="1267.9" y="1184.0" width="34.1" height="4.5" rx="2.25" fill="#5a5a5a" filter="url(#b1_5)"/>
<rect x="1326.6" y="1180.4" width="41.4" height="38.2" rx="0" fill="#aaaaaa" filter="url(#b4)" opacity="0.6"/>
<rect x="1326.6" y="1209.3" width="41.4" height="8.5" rx="4.25" fill="#191919" filter="url(#b1)"/>
<rect x="1327.6" y="1197.5" width="39.4" height="7.0" rx="3.5" fill="#1e1e1e" filter="url(#b1)"/>
<rect x="1329.6" y="1188.2" width="35.4" height="4.5" rx="2.25" fill="#464646" filter="url(#b1_5)"/>
<rect x="1089.0" y="1432.0" width="36.0" height="21.0" rx="0" fill="#9e9e9e" filter="url(#b5)" opacity="0.9"/>
<rect x="1150.0" y="1418.0" width="35.0" height="36.0" rx="0" fill="#c6c6c6" filter="url(#b6)" opacity="0.75"/>
<rect x="1202.0" y="1410.0" width="41.0" height="48.0" rx="0" fill="#aaaaaa" filter="url(#b7)" opacity="0.7"/>
<rect x="1205.0" y="1428.0" width="35.0" height="22.0" rx="6" fill="#1c1c1c" filter="url(#b4)" opacity="0.95"/>
<rect x="1261.0" y="1412.0" width="46.0" height="45.0" rx="0" fill="#aaaaaa" filter="url(#b7)" opacity="0.7"/>
<rect x="1264.0" y="1430.0" width="40.0" height="19.0" rx="6" fill="#1c1c1c" filter="url(#b4)" opacity="0.95"/>
<rect x="1322.5" y="1406.0" width="45.5" height="48.0" rx="0" fill="#aaaaaa" filter="url(#b7)" opacity="0.7"/>
<rect x="1325.5" y="1424.0" width="39.5" height="22.0" rx="6" fill="#1c1c1c" filter="url(#b4)" opacity="0.95"/>
<ellipse cx="1115.5" cy="1235.0" rx="2.2" ry="2.2" fill="#323232" filter="url(#b1)" opacity="0.9"/>
<ellipse cx="1194.0" cy="1275.5" rx="2.0" ry="2.0" fill="#323232" filter="url(#b1)" opacity="0.9"/>
<ellipse cx="1199.0" cy="1286.0" rx="1.8" ry="1.8" fill="#323232" filter="url(#b1)" opacity="0.9"/>
<ellipse cx="1228.0" cy="1276.5" rx="1.8" ry="1.8" fill="#323232" filter="url(#b1)" opacity="0.9"/>
<ellipse cx="1123.5" cy="1296.5" rx="1.6" ry="1.6" fill="#323232" filter="url(#b1)" opacity="0.9"/>
<ellipse cx="1290.0" cy="1333.0" rx="1.6" ry="1.6" fill="#323232" filter="url(#b1)" opacity="0.9"/>
<ellipse cx="1240.0" cy="1369.0" rx="1.6" ry="1.6" fill="#323232" filter="url(#b1)" opacity="0.9"/>
<ellipse cx="1186.6" cy="1138.0" rx="1.8" ry="1.8" fill="#323232" filter="url(#b1)" opacity="0.9"/>
<ellipse cx="1203.0" cy="1351.5" rx="1.8" ry="1.8" fill="#323232" filter="url(#b1)" opacity="0.9"/>
</g>
<rect x="1081.8" y="911.5" width="292.70" height="573.80" fill="none" stroke="#222" stroke-width="1.6"/>
<linearGradient id="gg4" x1="0" y1="0" x2="0" y2="1"><stop offset="-0.0009" stop-color="#f8f8f8"/><stop offset="0.1891" stop-color="#f5f5f5"/><stop offset="0.3285" stop-color="#e6e6e6"/><stop offset="0.5028" stop-color="#d7d7d7"/><stop offset="0.8513" stop-color="#d2d2d2"/><stop offset="0.9995" stop-color="#d4d4d4"/></linearGradient>
<clipPath id="gc4"><rect x="1565.8" y="911.5" width="295.80" height="573.80"/></clipPath>
<g clip-path="url(#gc4)">
<rect x="1565.8" y="911.5" width="295.80" height="573.80" fill="url(#gg4)"/>
<rect x="1570.0" y="1185.0" width="36.0" height="225.0" rx="0" fill="#bcbcbc" filter="url(#b8)" opacity="0.38"/>
<rect x="1630.0" y="1185.0" width="36.0" height="225.0" rx="0" fill="#bcbcbc" filter="url(#b8)" opacity="0.38"/>
<rect x="1689.0" y="1185.0" width="36.0" height="225.0" rx="0" fill="#bcbcbc" filter="url(#b8)" opacity="0.38"/>
<rect x="1752.0" y="1185.0" width="36.0" height="225.0" rx="0" fill="#bcbcbc" filter="url(#b8)" opacity="0.38"/>
<rect x="1818.0" y="1185.0" width="36.0" height="225.0" rx="0" fill="#bcbcbc" filter="url(#b8)" opacity="0.38"/>
<ellipse cx="1640.0" cy="960.0" rx="12.0" ry="35.0" fill="#acacac" filter="url(#b8)" transform="rotate(-15 1640.0 960.0)" opacity="0.85"/>
<ellipse cx="1645.0" cy="1040.0" rx="8.0" ry="50.0" fill="#a0a0a0" filter="url(#b6)" transform="rotate(12 1645.0 1040.0)" opacity="0.8"/>
<ellipse cx="1632.0" cy="1110.0" rx="4.0" ry="45.0" fill="#8a8a8a" filter="url(#b4)" transform="rotate(8 1632.0 1110.0)" opacity="0.85"/>
<ellipse cx="1613.0" cy="1160.0" rx="5.0" ry="25.0" fill="#555555" filter="url(#b4)" transform="rotate(10 1613.0 1160.0)" opacity="0.9"/>
<ellipse cx="1628.0" cy="1170.0" rx="4.0" ry="22.0" fill="#8c8c8c" filter="url(#b4)" transform="rotate(8 1628.0 1170.0)" opacity="0.75"/>
<ellipse cx="1745.0" cy="950.0" rx="12.0" ry="30.0" fill="#a8a8a8" filter="url(#b8)" opacity="0.85"/>
<ellipse cx="1765.0" cy="950.0" rx="8.0" ry="24.0" fill="#bebebe" filter="url(#b6)" opacity="0.75"/>
<ellipse cx="1747.0" cy="1029.0" rx="3.5" ry="17.0" fill="#191919" filter="url(#b2)"/>
<ellipse cx="1748.0" cy="1010.0" rx="6.0" ry="30.0" fill="#8a8a8a" filter="url(#b5)" opacity="0.75"/>
<ellipse cx="1751.0" cy="1110.0" rx="3.0" ry="50.0" fill="#808080" filter="url(#b4)" transform="rotate(-3 1751.0 1110.0)" opacity="0.85"/>
<ellipse cx="1755.6" cy="1160.0" rx="8.0" ry="5.0" fill="#5a5a5a" filter="url(#b3)" opacity="0.95"/>
<ellipse cx="1570.0" cy="1047.0" rx="10.0" ry="12.0" fill="#3c3c3c" filter="url(#b5)" opacity="0.95"/>
<ellipse cx="1596.4" cy="1061.3" rx="8.0" ry="9.0" fill="#505050" filter="url(#b4)" opacity="0.95"/>
<ellipse cx="1857.0" cy="1050.0" rx="5.0" ry="50.0" fill="#aaaaaa" filter="url(#b5)" transform="rotate(8 1857.0 1050.0)" opacity="0.8"/>
<rect x="1566.0" y="1160.0" width="296.0" height="4.0" rx="0" fill="#b9b9b9" filter="url(#b2)" opacity="0.7"/>
<ellipse cx="1595.0" cy="1040.0" rx="20.0" ry="40.0" fill="#d7d7d7" filter="url(#b10)" opacity="0.6"/>
<ellipse cx="1604.0" cy="1242.0" rx="5.0" ry="46.0" fill="#969696" filter="url(#b4)" transform="rotate(11 1604.0 1242.0)" opacity="0.8"/>
<ellipse cx="1590.0" cy="1250.0" rx="16.0" ry="32.0" fill="#b2b2b2" filter="url(#b8)" opacity="0.6"/>
<ellipse cx="1760.0" cy="1250.0" rx="8.0" ry="60.0" fill="#aaaaaa" filter="url(#b6)" transform="rotate(5 1760.0 1250.0)" opacity="0.7"/>
<ellipse cx="1800.0" cy="1240.0" rx="10.0" ry="70.0" fill="#e8e8e8" filter="url(#b6)" transform="rotate(10 1800.0 1240.0)" opacity="0.8"/>
<ellipse cx="1660.0" cy="1210.0" rx="6.0" ry="8.0" fill="#aaaaaa" filter="url(#b4)" opacity="0.7"/>
<ellipse cx="1610.0" cy="1215.0" rx="5.0" ry="25.0" fill="#8c8c8c" filter="url(#b4)" transform="rotate(10 1610.0 1215.0)" opacity="0.7"/>
<rect x="1690.0" y="1344.0" width="34.0" height="6.0" rx="0" fill="#afafaf" filter="url(#b2_0)" opacity="0.9"/>
<rect x="1750.0" y="1339.5" width="39.0" height="6.5" rx="0" fill="#787878" filter="url(#b2_0)" opacity="0.9"/>
<rect x="1815.0" y="1335.5" width="40.0" height="6.5" rx="0" fill="#919191" filter="url(#b2_0)" opacity="0.9"/>
<rect x="1752.0" y="1362.0" width="33.0" height="5.0" rx="0" fill="#b9b9b9" filter="url(#b2_0)" opacity="0.8"/>
<rect x="1569.0" y="1407.0" width="38.0" height="41.0" rx="0" fill="#969696" filter="url(#b6)" opacity="0.75"/>
<rect x="1574.0" y="1421.0" width="28.0" height="15.0" rx="6" fill="#767676" filter="url(#b4)" opacity="0.95"/>
<rect x="1629.6" y="1409.5" width="38.1" height="43.1" rx="0" fill="#969696" filter="url(#b6)" opacity="0.75"/>
<rect x="1634.6" y="1423.5" width="28.1" height="17.1" rx="6" fill="#2d2d2d" filter="url(#b4)" opacity="0.95"/>
<rect x="1688.0" y="1409.0" width="38.0" height="48.0" rx="0" fill="#969696" filter="url(#b6)" opacity="0.75"/>
<rect x="1693.0" y="1423.0" width="28.0" height="22.0" rx="6" fill="#1e1e1e" filter="url(#b4)" opacity="0.95"/>
<rect x="1748.6" y="1403.0" width="42.4" height="47.0" rx="0" fill="#969696" filter="url(#b6)" opacity="0.75"/>
<rect x="1753.6" y="1417.0" width="32.4" height="21.0" rx="6" fill="#1e1e1e" filter="url(#b4)" opacity="0.95"/>
<rect x="1813.6" y="1401.0" width="44.8" height="49.0" rx="0" fill="#969696" filter="url(#b6)" opacity="0.75"/>
<rect x="1818.6" y="1415.0" width="34.8" height="23.0" rx="6" fill="#323232" filter="url(#b4)" opacity="0.95"/>
<rect x="1566.0" y="1462.0" width="296.0" height="14.0" rx="0" fill="#e4e4e4" filter="url(#b4)" opacity="0.85"/>
<rect x="1700.0" y="1461.0" width="162.0" height="15.0" rx="0" fill="#fafafa" filter="url(#b4)" opacity="0.9"/>
<rect x="1566.0" y="1477.0" width="296.0" height="7.0" rx="0" fill="#969696" filter="url(#b2_0)" opacity="0.9"/>
<rect x="1566.0" y="1477.0" width="134.0" height="7.0" rx="0" fill="#6e6e6e" filter="url(#b2_0)" opacity="0.6"/>
<ellipse cx="1575.0" cy="1387.0" rx="2.5" ry="2.5" fill="#323232" filter="url(#b1)" opacity="0.9"/>
<ellipse cx="1574.5" cy="1441.5" rx="2.5" ry="2.5" fill="#323232" filter="url(#b1)" opacity="0.9"/>
<ellipse cx="1579.0" cy="1453.5" rx="2.3" ry="2.3" fill="#323232" filter="url(#b1)" opacity="0.9"/>
<ellipse cx="1608.5" cy="1445.5" rx="2.0" ry="2.0" fill="#323232" filter="url(#b1)" opacity="0.9"/>
<ellipse cx="1683.5" cy="1473.5" rx="3.0" ry="3.0" fill="#323232" filter="url(#b1)" opacity="0.9"/>
<ellipse cx="1705.5" cy="1473.5" rx="2.2" ry="2.2" fill="#323232" filter="url(#b1)" opacity="0.9"/>
<ellipse cx="1788.5" cy="1382.5" rx="2.2" ry="2.2" fill="#323232" filter="url(#b1)" opacity="0.9"/>
<ellipse cx="1858.0" cy="1262.0" rx="2.5" ry="2.5" fill="#323232" filter="url(#b1)" opacity="0.9"/>
<ellipse cx="1847.5" cy="1300.5" rx="1.8" ry="1.8" fill="#323232" filter="url(#b1)" opacity="0.9"/>
<ellipse cx="1641.0" cy="984.0" rx="3.0" ry="3.0" fill="#323232" filter="url(#b1)" opacity="0.9"/>
<ellipse cx="1726.5" cy="1012.0" rx="2.2" ry="2.2" fill="#323232" filter="url(#b1)" opacity="0.9"/>
<ellipse cx="1705.5" cy="1093.0" rx="2.3" ry="2.3" fill="#323232" filter="url(#b1)" opacity="0.9"/>
<ellipse cx="1833.5" cy="1102.5" rx="2.3" ry="2.3" fill="#323232" filter="url(#b1)" opacity="0.9"/>
<ellipse cx="1847.5" cy="1100.5" rx="2.0" ry="2.0" fill="#323232" filter="url(#b1)" opacity="0.9"/>
<ellipse cx="1725.0" cy="925.0" rx="2.0" ry="2.0" fill="#323232" filter="url(#b1)" opacity="0.9"/>
<ellipse cx="1608.0" cy="921.0" rx="1.8" ry="1.8" fill="#323232" filter="url(#b1)" opacity="0.9"/>
<ellipse cx="1639.3" cy="1353.5" rx="4.0" ry="4.0" fill="#fafafa" filter="url(#b2)" opacity="0.9"/>
</g>
<rect x="1565.8" y="911.5" width="295.80" height="573.80" fill="none" stroke="#222" stroke-width="1.6"/>
<text x="105.50" y="797.90" font-size="27" fill="#2e9460" textLength="155.15" lengthAdjust="spacingAndGlyphs">roGFP2-Tsa1</text>
<text x="268.87" y="797.90" font-size="27" fill="#000" textLength="14.66" lengthAdjust="spacingAndGlyphs">+</text>
<text x="290.92" y="797.90" font-size="27" fill="#000" textLength="57.69" lengthAdjust="spacingAndGlyphs">Tsa2</text>
<text x="160.54" y="840.80" font-size="27" fill="#000" textLength="67.47" lengthAdjust="spacingAndGlyphs">1 mM</text>
<text x="234.87" y="840.80" font-size="27" fill="#000" textLength="22.24" lengthAdjust="spacingAndGlyphs">H</text>
<text x="254.78" y="850.00" font-size="17.0" fill="#000" textLength="12.33" lengthAdjust="spacingAndGlyphs">2</text>
<text x="265.65" y="840.80" font-size="27" fill="#000" textLength="22.11" lengthAdjust="spacingAndGlyphs">O</text>
<text x="287.14" y="850.00" font-size="17.0" fill="#000" textLength="11.72" lengthAdjust="spacingAndGlyphs">2</text>
<line x1="119.70" y1="855.00" x2="341.40" y2="855.00" stroke="#222" stroke-width="1.4"/>
<text x="0.16" y="898.40" font-size="27" fill="#000" textLength="63.00" lengthAdjust="spacingAndGlyphs">Time</text>
<text x="107.52" y="898.00" font-size="22.5" fill="#000" textLength="20.50" lengthAdjust="spacingAndGlyphs">0′</text>
<text x="158.28" y="898.00" font-size="22.5" fill="#000" textLength="34.94" lengthAdjust="spacingAndGlyphs">30′</text>
<text x="217.03" y="898.00" font-size="22.5" fill="#000" textLength="35.08" lengthAdjust="spacingAndGlyphs">60′</text>
<text x="274.90" y="898.00" font-size="22.5" fill="#000" textLength="36.03" lengthAdjust="spacingAndGlyphs">90′</text>
<text x="327.99" y="898.00" font-size="22.5" fill="#000" textLength="44.17" lengthAdjust="spacingAndGlyphs">120′</text>
<text x="14.54" y="964.20" font-size="27" fill="#000" textLength="46.46" lengthAdjust="spacingAndGlyphs">kDa</text>
<text x="21.24" y="1107.90" font-size="22.5" fill="#000" textLength="40.92" lengthAdjust="spacingAndGlyphs">720</text>
<line x1="72.10" y1="1100.00" x2="82.60" y2="1100.00" stroke="#222" stroke-width="1.4"/>
<text x="21.31" y="1161.30" font-size="22.5" fill="#000" textLength="40.92" lengthAdjust="spacingAndGlyphs">545</text>
<line x1="72.10" y1="1169.20" x2="82.60" y2="1169.20" stroke="#222" stroke-width="1.4"/>
<text x="21.24" y="1191.30" font-size="22.5" fill="#000" textLength="40.92" lengthAdjust="spacingAndGlyphs">450</text>
<text x="21.51" y="1270.80" font-size="22.5" fill="#000" textLength="40.92" lengthAdjust="spacingAndGlyphs">272</text>
<line x1="72.10" y1="1263.30" x2="82.60" y2="1263.30" stroke="#222" stroke-width="1.4"/>
<text x="21.36" y="1372.00" font-size="22.5" fill="#000" textLength="40.92" lengthAdjust="spacingAndGlyphs">146</text>
<line x1="72.10" y1="1365.00" x2="82.60" y2="1365.00" stroke="#222" stroke-width="1.4"/>
<text x="35.15" y="1468.90" font-size="22.5" fill="#000" textLength="27.28" lengthAdjust="spacingAndGlyphs">67</text>
<line x1="72.10" y1="1461.90" x2="82.60" y2="1461.90" stroke="#222" stroke-width="1.4"/>
<text x="625.29" y="797.90" font-size="27" fill="#2e9460" textLength="155.97" lengthAdjust="spacingAndGlyphs">roGFP2-Tsa1</text>
<text x="634.24" y="840.80" font-size="27" fill="#000" textLength="67.47" lengthAdjust="spacingAndGlyphs">1 mM</text>
<text x="708.57" y="840.80" font-size="27" fill="#000" textLength="22.24" lengthAdjust="spacingAndGlyphs">H</text>
<text x="728.48" y="850.00" font-size="17.0" fill="#000" textLength="12.33" lengthAdjust="spacingAndGlyphs">2</text>
<text x="739.35" y="840.80" font-size="27" fill="#000" textLength="22.11" lengthAdjust="spacingAndGlyphs">O</text>
<text x="760.84" y="850.00" font-size="17.0" fill="#000" textLength="11.72" lengthAdjust="spacingAndGlyphs">2</text>
<line x1="593.40" y1="855.00" x2="815.00" y2="855.00" stroke="#222" stroke-width="1.4"/>
<text x="483.27" y="898.40" font-size="27" fill="#000" textLength="62.48" lengthAdjust="spacingAndGlyphs">Time</text>
<text x="588.65" y="898.00" font-size="22.5" fill="#000" textLength="20.07" lengthAdjust="spacingAndGlyphs">0′</text>
<text x="639.27" y="898.00" font-size="22.5" fill="#000" textLength="35.04" lengthAdjust="spacingAndGlyphs">30′</text>
<text x="697.33" y="898.00" font-size="22.5" fill="#000" textLength="35.19" lengthAdjust="spacingAndGlyphs">60′</text>
<text x="756.03" y="898.00" font-size="22.5" fill="#000" textLength="35.08" lengthAdjust="spacingAndGlyphs">90′</text>
<text x="809.09" y="898.00" font-size="22.5" fill="#000" textLength="44.17" lengthAdjust="spacingAndGlyphs">120′</text>
<text x="490.44" y="964.20" font-size="27" fill="#000" textLength="46.46" lengthAdjust="spacingAndGlyphs">kDa</text>
<text x="497.34" y="1089.80" font-size="22.5" fill="#000" textLength="40.92" lengthAdjust="spacingAndGlyphs">720</text>
<line x1="546.00" y1="1081.50" x2="556.50" y2="1081.50" stroke="#222" stroke-width="1.4"/>
<text x="497.41" y="1146.60" font-size="22.5" fill="#000" textLength="40.92" lengthAdjust="spacingAndGlyphs">545</text>
<line x1="546.00" y1="1154.00" x2="556.50" y2="1154.00" stroke="#222" stroke-width="1.4"/>
<text x="497.34" y="1177.20" font-size="22.5" fill="#000" textLength="40.92" lengthAdjust="spacingAndGlyphs">450</text>
<text x="497.61" y="1255.60" font-size="22.5" fill="#000" textLength="40.92" lengthAdjust="spacingAndGlyphs">272</text>
<line x1="546.00" y1="1249.40" x2="556.50" y2="1249.40" stroke="#222" stroke-width="1.4"/>
<text x="497.46" y="1352.80" font-size="22.5" fill="#000" textLength="40.92" lengthAdjust="spacingAndGlyphs">146</text>
<line x1="546.00" y1="1346.00" x2="556.50" y2="1346.00" stroke="#222" stroke-width="1.4"/>
<text x="511.25" y="1463.00" font-size="22.5" fill="#000" textLength="27.28" lengthAdjust="spacingAndGlyphs">67</text>
<line x1="546.00" y1="1455.90" x2="556.50" y2="1455.90" stroke="#222" stroke-width="1.4"/>
<text x="1100.37" y="797.90" font-size="27" fill="#000" textLength="52.48" lengthAdjust="spacingAndGlyphs">Tsa1</text>
<text x="1161.03" y="797.90" font-size="27" fill="#000" textLength="13.94" lengthAdjust="spacingAndGlyphs">+</text>
<text x="1181.23" y="797.90" font-size="27" fill="#2e9460" textLength="161.10" lengthAdjust="spacingAndGlyphs">roGFP2-Tsa2</text>
<text x="1157.95" y="840.80" font-size="27" fill="#000" textLength="67.15" lengthAdjust="spacingAndGlyphs">1 mM</text>
<text x="1231.97" y="840.80" font-size="27" fill="#000" textLength="22.24" lengthAdjust="spacingAndGlyphs">H</text>
<text x="1251.88" y="850.00" font-size="17.0" fill="#000" textLength="12.33" lengthAdjust="spacingAndGlyphs">2</text>
<text x="1262.75" y="840.80" font-size="27" fill="#000" textLength="22.11" lengthAdjust="spacingAndGlyphs">O</text>
<text x="1284.24" y="850.00" font-size="17.0" fill="#000" textLength="11.72" lengthAdjust="spacingAndGlyphs">2</text>
<line x1="1117.10" y1="855.00" x2="1338.80" y2="855.00" stroke="#222" stroke-width="1.4"/>
<text x="997.17" y="898.40" font-size="27" fill="#000" textLength="62.79" lengthAdjust="spacingAndGlyphs">Time</text>
<text x="1101.59" y="898.00" font-size="22.5" fill="#000" textLength="21.04" lengthAdjust="spacingAndGlyphs">0′</text>
<text x="1153.38" y="898.00" font-size="22.5" fill="#000" textLength="34.83" lengthAdjust="spacingAndGlyphs">30′</text>
<text x="1211.23" y="898.00" font-size="22.5" fill="#000" textLength="35.19" lengthAdjust="spacingAndGlyphs">60′</text>
<text x="1269.53" y="898.00" font-size="22.5" fill="#000" textLength="35.08" lengthAdjust="spacingAndGlyphs">90′</text>
<text x="1323.02" y="898.00" font-size="22.5" fill="#000" textLength="43.43" lengthAdjust="spacingAndGlyphs">120′</text>
<text x="1010.47" y="964.20" font-size="27" fill="#000" textLength="45.63" lengthAdjust="spacingAndGlyphs">kDa</text>
<text x="1016.84" y="1094.80" font-size="22.5" fill="#000" textLength="40.92" lengthAdjust="spacingAndGlyphs">720</text>
<line x1="1071.30" y1="1087.70" x2="1081.80" y2="1087.70" stroke="#222" stroke-width="1.4"/>
<text x="1016.91" y="1176.10" font-size="22.5" fill="#000" textLength="40.92" lengthAdjust="spacingAndGlyphs">545</text>
<line x1="1071.30" y1="1183.40" x2="1081.80" y2="1183.40" stroke="#222" stroke-width="1.4"/>
<text x="1016.84" y="1206.10" font-size="22.5" fill="#000" textLength="40.92" lengthAdjust="spacingAndGlyphs">450</text>
<text x="1017.11" y="1280.60" font-size="22.5" fill="#000" textLength="40.92" lengthAdjust="spacingAndGlyphs">272</text>
<line x1="1071.30" y1="1273.90" x2="1081.80" y2="1273.90" stroke="#222" stroke-width="1.4"/>
<text x="1016.96" y="1374.00" font-size="22.5" fill="#000" textLength="40.92" lengthAdjust="spacingAndGlyphs">146</text>
<line x1="1071.30" y1="1367.20" x2="1081.80" y2="1367.20" stroke="#222" stroke-width="1.4"/>
<text x="1030.75" y="1485.90" font-size="22.5" fill="#000" textLength="27.28" lengthAdjust="spacingAndGlyphs">67</text>
<line x1="1071.30" y1="1479.50" x2="1081.80" y2="1479.50" stroke="#222" stroke-width="1.4"/>
<text x="1632.33" y="797.90" font-size="27" fill="#2e9460" textLength="161.41" lengthAdjust="spacingAndGlyphs">roGFP2-Tsa2</text>
<text x="1643.85" y="840.80" font-size="27" fill="#000" textLength="67.15" lengthAdjust="spacingAndGlyphs">1 mM</text>
<text x="1717.87" y="840.80" font-size="27" fill="#000" textLength="22.24" lengthAdjust="spacingAndGlyphs">H</text>
<text x="1737.78" y="850.00" font-size="17.0" fill="#000" textLength="12.33" lengthAdjust="spacingAndGlyphs">2</text>
<text x="1748.65" y="840.80" font-size="27" fill="#000" textLength="22.11" lengthAdjust="spacingAndGlyphs">O</text>
<text x="1770.14" y="850.00" font-size="17.0" fill="#000" textLength="11.72" lengthAdjust="spacingAndGlyphs">2</text>
<line x1="1603.00" y1="855.00" x2="1824.70" y2="855.00" stroke="#222" stroke-width="1.4"/>
<text x="1481.96" y="898.40" font-size="27" fill="#000" textLength="63.20" lengthAdjust="spacingAndGlyphs">Time</text>
<text x="1587.73" y="898.00" font-size="22.5" fill="#000" textLength="20.39" lengthAdjust="spacingAndGlyphs">0′</text>
<text x="1638.37" y="898.00" font-size="22.5" fill="#000" textLength="35.04" lengthAdjust="spacingAndGlyphs">30′</text>
<text x="1696.23" y="898.00" font-size="22.5" fill="#000" textLength="35.19" lengthAdjust="spacingAndGlyphs">60′</text>
<text x="1754.22" y="898.00" font-size="22.5" fill="#000" textLength="35.61" lengthAdjust="spacingAndGlyphs">90′</text>
<text x="1807.81" y="898.00" font-size="22.5" fill="#000" textLength="43.64" lengthAdjust="spacingAndGlyphs">120′</text>
<text x="1498.11" y="964.20" font-size="27" fill="#000" textLength="47.29" lengthAdjust="spacingAndGlyphs">kDa</text>
<text x="1504.84" y="1121.70" font-size="22.5" fill="#000" textLength="40.92" lengthAdjust="spacingAndGlyphs">720</text>
<line x1="1555.30" y1="1115.10" x2="1565.80" y2="1115.10" stroke="#222" stroke-width="1.4"/>
<text x="1504.91" y="1180.10" font-size="22.5" fill="#000" textLength="40.92" lengthAdjust="spacingAndGlyphs">545</text>
<line x1="1555.30" y1="1187.80" x2="1565.80" y2="1187.80" stroke="#222" stroke-width="1.4"/>
<text x="1504.84" y="1211.10" font-size="22.5" fill="#000" textLength="40.92" lengthAdjust="spacingAndGlyphs">450</text>
<text x="1505.11" y="1280.80" font-size="22.5" fill="#000" textLength="40.92" lengthAdjust="spacingAndGlyphs">272</text>
<line x1="1555.30" y1="1274.00" x2="1565.80" y2="1274.00" stroke="#222" stroke-width="1.4"/>
<text x="1504.96" y="1362.00" font-size="22.5" fill="#000" textLength="40.92" lengthAdjust="spacingAndGlyphs">146</text>
<line x1="1555.30" y1="1355.20" x2="1565.80" y2="1355.20" stroke="#222" stroke-width="1.4"/>
<text x="1518.75" y="1435.30" font-size="22.5" fill="#000" textLength="27.28" lengthAdjust="spacingAndGlyphs">67</text>
<line x1="1555.30" y1="1429.20" x2="1565.80" y2="1429.20" stroke="#222" stroke-width="1.4"/>
<path d="M419.8,1122 L434.4,1211 L405,1211 Z" fill="#000"/>
<text x="392.33" y="1241.90" font-size="27" fill="#000" textLength="56.65" lengthAdjust="spacingAndGlyphs">Tsa2</text>
<path d="M1401.9,1124.6 L1430.9,1124.6 L1416.8,1211.3 Z" fill="#2e9460"/>
<g transform="translate(1407.3,951.2) rotate(90)">
<text x="-1.76" y="0.00" font-size="27" fill="#2e9460" textLength="160.29" lengthAdjust="spacingAndGlyphs">roGFP2-Tsa2</text>
</g>
<text x="1936.20" y="841.00" font-size="27" fill="#000" textLength="190.30" lengthAdjust="spacingAndGlyphs">Ladder pattern</text>
<line x1="1903.70" y1="855.50" x2="2159.60" y2="855.50" stroke="#222" stroke-width="1.4"/>
<text x="1892.41" y="889.40" font-size="27" fill="#2e9460" textLength="273.49" lengthAdjust="spacingAndGlyphs">α = roGFP2-Tsa1–Tsa2</text>
<text x="1891.74" y="923.20" font-size="27" fill="#000" textLength="170.44" lengthAdjust="spacingAndGlyphs">β = Tsa1–Tsa2</text>
<text x="1957.17" y="976.40" font-size="27" fill="#000" textLength="29.67" lengthAdjust="spacingAndGlyphs">10</text>
<text x="1987.60" y="976.40" font-size="27" fill="#2e9460" textLength="17.89" lengthAdjust="spacingAndGlyphs">α</text>
<text x="2004.72" y="976.40" font-size="27" fill="#000" textLength="8.75" lengthAdjust="spacingAndGlyphs">:</text>
<text x="2019.83" y="976.40" font-size="27" fill="#000" textLength="6.28" lengthAdjust="spacingAndGlyphs">(</text>
<text x="2028.53" y="976.40" font-size="27" fill="#2e9460" textLength="17.55" lengthAdjust="spacingAndGlyphs">α</text>
<text x="2045.61" y="985.60" font-size="17" fill="#000" textLength="10.99" lengthAdjust="spacingAndGlyphs">2</text>
<text x="2058.19" y="976.40" font-size="27" fill="#000" textLength="6.53" lengthAdjust="spacingAndGlyphs">)</text>
<text x="2065.33" y="985.60" font-size="17" fill="#000" textLength="10.67" lengthAdjust="spacingAndGlyphs">5</text>
<text x="1971.78" y="1011.40" font-size="27" fill="#000" textLength="16.86" lengthAdjust="spacingAndGlyphs">9</text>
<text x="1988.00" y="1011.40" font-size="27" fill="#2e9460" textLength="17.89" lengthAdjust="spacingAndGlyphs">α</text>
<text x="2005.03" y="1011.40" font-size="27" fill="#000" textLength="9.05" lengthAdjust="spacingAndGlyphs">:</text>
<text x="2020.50" y="1011.40" font-size="27" fill="#000" textLength="5.90" lengthAdjust="spacingAndGlyphs">(</text>
<text x="2029.04" y="1011.40" font-size="27" fill="#2e9460" textLength="17.32" lengthAdjust="spacingAndGlyphs">α</text>
<text x="2045.90" y="1020.60" font-size="17" fill="#000" textLength="11.11" lengthAdjust="spacingAndGlyphs">2</text>
<text x="2058.48" y="1011.40" font-size="27" fill="#000" textLength="6.66" lengthAdjust="spacingAndGlyphs">)</text>
<text x="2066.02" y="1020.60" font-size="17" fill="#000" textLength="11.70" lengthAdjust="spacingAndGlyphs">4</text>
<text x="2077.18" y="1011.40" font-size="27" fill="#000" textLength="6.53" lengthAdjust="spacingAndGlyphs">(</text>
<text x="2085.80" y="1011.40" font-size="27" fill="#2e9460" textLength="17.89" lengthAdjust="spacingAndGlyphs">α</text>
<text x="2102.97" y="1011.40" font-size="27" fill="#000" textLength="17.64" lengthAdjust="spacingAndGlyphs">β</text>
<text x="2121.58" y="1011.40" font-size="27" fill="#000" textLength="7.03" lengthAdjust="spacingAndGlyphs">)</text>
<text x="1972.11" y="1230.40" font-size="27" fill="#000" textLength="15.38" lengthAdjust="spacingAndGlyphs">2</text>
<text x="1987.60" y="1230.40" font-size="27" fill="#2e9460" textLength="17.89" lengthAdjust="spacingAndGlyphs">α</text>
<text x="2004.72" y="1230.40" font-size="27" fill="#000" textLength="8.75" lengthAdjust="spacingAndGlyphs">:</text>
<text x="2019.83" y="1230.40" font-size="27" fill="#000" textLength="6.28" lengthAdjust="spacingAndGlyphs">(</text>
<text x="2028.53" y="1230.40" font-size="27" fill="#2e9460" textLength="17.55" lengthAdjust="spacingAndGlyphs">α</text>
<text x="2045.61" y="1239.60" font-size="17" fill="#000" textLength="10.99" lengthAdjust="spacingAndGlyphs">2</text>
<text x="2058.19" y="1230.40" font-size="27" fill="#000" textLength="6.53" lengthAdjust="spacingAndGlyphs">)</text>
<text x="2064.86" y="1230.40" font-size="27" fill="#000" textLength="6.66" lengthAdjust="spacingAndGlyphs">(</text>
<text x="2073.18" y="1230.40" font-size="27" fill="#000" textLength="16.78" lengthAdjust="spacingAndGlyphs">β</text>
<text x="2089.23" y="1239.60" font-size="17" fill="#000" textLength="10.74" lengthAdjust="spacingAndGlyphs">2</text>
<text x="2101.78" y="1230.40" font-size="27" fill="#000" textLength="6.66" lengthAdjust="spacingAndGlyphs">)</text>
<text x="2109.32" y="1239.60" font-size="17" fill="#000" textLength="11.59" lengthAdjust="spacingAndGlyphs">4</text>
<text x="1969.44" y="1269.70" font-size="27" fill="#000">1</text>
<text x="1983.60" y="1269.70" font-size="27" fill="#2e9460" textLength="17.89" lengthAdjust="spacingAndGlyphs">α</text>
<text x="2000.63" y="1269.70" font-size="27" fill="#000" textLength="9.05" lengthAdjust="spacingAndGlyphs">:</text>
<text x="2016.05" y="1269.70" font-size="27" fill="#000" textLength="6.15" lengthAdjust="spacingAndGlyphs">(</text>
<text x="2024.73" y="1269.70" font-size="27" fill="#2e9460" textLength="17.44" lengthAdjust="spacingAndGlyphs">α</text>
<text x="2041.03" y="1269.70" font-size="27" fill="#000" textLength="17.15" lengthAdjust="spacingAndGlyphs">β</text>
<text x="2058.98" y="1269.70" font-size="27" fill="#000" textLength="7.03" lengthAdjust="spacingAndGlyphs">)</text>
<text x="2066.68" y="1269.70" font-size="27" fill="#000" textLength="6.53" lengthAdjust="spacingAndGlyphs">(</text>
<text x="2074.58" y="1269.70" font-size="27" fill="#000" textLength="16.78" lengthAdjust="spacingAndGlyphs">β</text>
<text x="2091.00" y="1278.90" font-size="17" fill="#000" textLength="11.11" lengthAdjust="spacingAndGlyphs">2</text>
<text x="2103.59" y="1269.70" font-size="27" fill="#000" textLength="6.53" lengthAdjust="spacingAndGlyphs">)</text>
<text x="2111.02" y="1278.90" font-size="17" fill="#000" textLength="11.59" lengthAdjust="spacingAndGlyphs">4</text>
<path d="M1897.8,1048.6 Q1894.6,1050 1894.6,1054 L1894.6,1172 Q1894.6,1176 1897.8,1177.4" fill="none" stroke="#222" stroke-width="1.5"/>
<path d="M1950,983 L1899.5,1046.5" fill="none" stroke="#222" stroke-width="1.5" stroke-dasharray="7.5 6.8"/>
<path d="M1899.5,1179.5 L1950,1241" fill="none" stroke="#222" stroke-width="1.5" stroke-dasharray="7.5 6.8"/>
<circle cx="1978.0" cy="1109.9" r="1.9" fill="#000"/>
<circle cx="1986.0" cy="1109.9" r="1.9" fill="#000"/>
<circle cx="1994.0" cy="1109.9" r="1.9" fill="#000"/>
<path d="M2022.8,1065.9 L2052.2,1065.9 L2037.3,1153.5 Z" fill="#2e9460"/>
<path d="M2067.4,1065.9 L2082.2,1153.5 L2052.7,1153.5 Z" fill="#000"/>
<line x1="1861.60" y1="1349.60" x2="1951.60" y2="1349.60" stroke="#222" stroke-width="1.4"/>
<line x1="1861.60" y1="1427.20" x2="1951.60" y2="1427.20" stroke="#222" stroke-width="1.4"/>
<text x="1964.32" y="1357.80" font-size="27" fill="#000" textLength="165.85" lengthAdjust="spacingAndGlyphs">Homodimer?</text>
<text x="1964.51" y="1419.00" font-size="27" fill="#000" textLength="173.72" lengthAdjust="spacingAndGlyphs">Unassembled</text>
<text x="1964.80" y="1451.90" font-size="27" fill="#000" textLength="136.46" lengthAdjust="spacingAndGlyphs">monomer?</text>
</svg></body></html>
